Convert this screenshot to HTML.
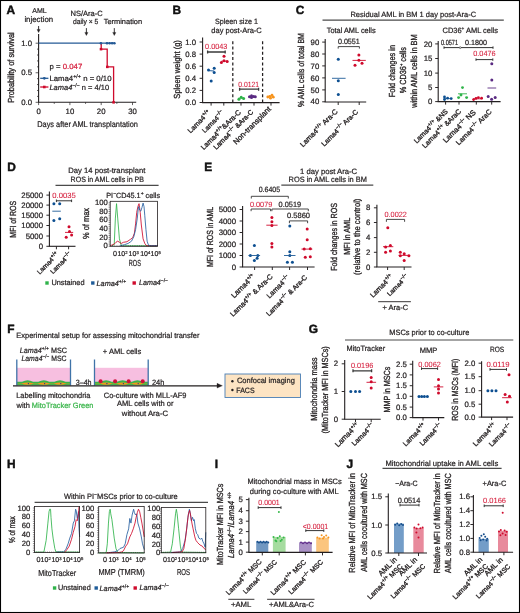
<!DOCTYPE html>
<html><head><meta charset="utf-8"><style>
html,body{margin:0;padding:0;background:#fff;}
svg{display:block;will-change:transform;}
text{font-family:"Liberation Sans",sans-serif;text-rendering:geometricPrecision;}
text:not([fill]){fill:#231f20;}
line:not([stroke]){stroke:#231f20;}
line:not([stroke-width]){stroke-width:0.8;}
</style></head><body>
<svg width="520" height="613" viewBox="0 0 520 613">
<rect x="0.5" y="0.5" width="519" height="612" fill="#fff" stroke="#000" stroke-width="1.1"/>
<text x="6.6" y="13.7" stroke="#111" stroke-width="0.45" font-size="11.9" fill="#111" font-weight="bold">A</text>
<text x="39.46" y="13.34" stroke="#231f20" stroke-width="0.22" font-size="7.01" text-anchor="middle">AML</text>
<text x="38.75" y="22.15" stroke="#231f20" stroke-width="0.22" font-size="7.84" text-anchor="middle">injection</text>
<text x="86.65" y="16.14" stroke="#231f20" stroke-width="0.22" font-size="7.54" text-anchor="middle">NS/Ara-C</text>
<text x="72.9" y="24.15" stroke="#231f20" stroke-width="0.22" font-size="7.4" textLength="25.38" lengthAdjust="spacingAndGlyphs">daily × 5</text>
<text x="103.72" y="24.39" stroke="#231f20" stroke-width="0.22" font-size="7.4" textLength="38.39" lengthAdjust="spacingAndGlyphs">Termination</text>
<line x1="38.6" y1="26" x2="38.6" y2="30.1" stroke-width="0.9"/>
<path d="M37,29.4 L40.2,29.4 L38.6,32.6 Z" fill="#231f20" stroke="#231f20" stroke-width="0.3"/>
<line x1="86.4" y1="28.1" x2="86.4" y2="33.1" stroke-width="0.9"/>
<path d="M84.8,32.4 L88,32.4 L86.4,35.6 Z" fill="#231f20" stroke="#231f20" stroke-width="0.3"/>
<line x1="114.3" y1="28.1" x2="114.3" y2="33.1" stroke-width="0.9"/>
<path d="M112.7,32.4 L115.9,32.4 L114.3,35.6 Z" fill="#231f20" stroke="#231f20" stroke-width="0.3"/>
<line x1="38.6" y1="34" x2="38.6" y2="102.3" stroke-width="1.1"/>
<line x1="35.6" y1="102.3" x2="38.6" y2="102.3" stroke-width="0.7"/>
<line x1="37" y1="96.39" x2="38.6" y2="96.39" stroke-width="0.7"/>
<line x1="37" y1="90.48" x2="38.6" y2="90.48" stroke-width="0.7"/>
<line x1="37" y1="84.57" x2="38.6" y2="84.57" stroke-width="0.7"/>
<line x1="37" y1="78.66" x2="38.6" y2="78.66" stroke-width="0.7"/>
<line x1="35.6" y1="72.75" x2="38.6" y2="72.75" stroke-width="0.7"/>
<line x1="37" y1="66.84" x2="38.6" y2="66.84" stroke-width="0.7"/>
<line x1="37" y1="60.93" x2="38.6" y2="60.93" stroke-width="0.7"/>
<line x1="37" y1="55.02" x2="38.6" y2="55.02" stroke-width="0.7"/>
<line x1="37" y1="49.11" x2="38.6" y2="49.11" stroke-width="0.7"/>
<line x1="35.6" y1="43.2" x2="38.6" y2="43.2" stroke-width="0.7"/>
<text x="32" y="45.9" stroke="#231f20" stroke-width="0.22" font-size="7.8" text-anchor="end">1.0</text>
<text x="32" y="75.4" stroke="#231f20" stroke-width="0.22" font-size="7.8" text-anchor="end">0.5</text>
<text x="32" y="105" stroke="#231f20" stroke-width="0.22" font-size="7.8" text-anchor="end">0.0</text>
<line x1="38.05" y1="102.3" x2="136.2" y2="102.3" stroke-width="1.1"/>
<line x1="38.6" y1="102.3" x2="38.6" y2="105.1" stroke-width="0.7"/>
<line x1="54.25" y1="102.3" x2="54.25" y2="103.9" stroke-width="0.7"/>
<line x1="69.9" y1="102.3" x2="69.9" y2="105.1" stroke-width="0.7"/>
<line x1="85.55" y1="102.3" x2="85.55" y2="103.9" stroke-width="0.7"/>
<line x1="101.2" y1="102.3" x2="101.2" y2="105.1" stroke-width="0.7"/>
<line x1="116.85" y1="102.3" x2="116.85" y2="103.9" stroke-width="0.7"/>
<line x1="132.5" y1="102.3" x2="132.5" y2="105.1" stroke-width="0.7"/>
<text x="38.6" y="114.4" stroke="#231f20" stroke-width="0.22" font-size="7.8" text-anchor="middle">0</text>
<text x="69.9" y="114.4" stroke="#231f20" stroke-width="0.22" font-size="7.8" text-anchor="middle">10</text>
<text x="101.2" y="114.4" stroke="#231f20" stroke-width="0.22" font-size="7.8" text-anchor="middle">20</text>
<text x="132.5" y="114.4" stroke="#231f20" stroke-width="0.22" font-size="7.8" text-anchor="middle">30</text>
<text x="14" y="67.5" stroke="#231f20" stroke-width="0.32" font-size="8.8" text-anchor="middle" textLength="70.49" lengthAdjust="spacingAndGlyphs" transform="rotate(-90 14 67.5)">Probability of survival</text>
<text x="37.2" y="126.58" stroke="#231f20" stroke-width="0.22" font-size="8.2" textLength="100.8" lengthAdjust="spacingAndGlyphs">Days after AML transplantation</text>
<path d="M101.2,43.2 V49.11 H107.2 V66.84 H113.6 V102.3" fill="none" stroke="#cf0a2c" stroke-width="1.3"/>
<rect x="99.7" y="47.91" width="2.6" height="2.5" fill="#cf0a2c"/>
<rect x="106" y="65.64" width="2.6" height="2.5" fill="#cf0a2c"/>
<rect x="112.3" y="101.1" width="2.6" height="2.5" fill="#cf0a2c"/>
<line x1="38.6" y1="43.2" x2="114.4" y2="43.2" stroke-width="1.3" stroke="#245a96"/>
<circle cx="100.9" cy="43.2" r="1.3" fill="#245a96"/>
<circle cx="107" cy="43.2" r="1.3" fill="#245a96"/>
<circle cx="109.6" cy="43.2" r="1.3" fill="#245a96"/>
<circle cx="112.1" cy="43.2" r="1.3" fill="#245a96"/>
<circle cx="114.4" cy="43.2" r="1.3" fill="#245a96"/>
<text x="49.6" y="68.78" stroke="#231f20" stroke-width="0.22" font-size="7.5" textLength="32.66" lengthAdjust="spacingAndGlyphs">p = <tspan fill="#d6213f" stroke="#d6213f">0.047</tspan></text>
<line x1="40.2" y1="78.3" x2="48.4" y2="78.3" stroke-width="1.3" stroke="#245a96"/>
<circle cx="44.3" cy="78.3" r="1.4" fill="#245a96"/>
<text x="49.4" y="80.72" stroke="#231f20" stroke-width="0.22" font-size="7.5" textLength="62.13" lengthAdjust="spacingAndGlyphs">Lama4<tspan font-size="5.2" dy="-2.8">+/+</tspan><tspan dy="2.8"> n = 0/10</tspan></text>
<line x1="40.2" y1="87" x2="48.4" y2="87" stroke-width="1.3" stroke="#cf0a2c"/>
<rect x="43" y="85.7" width="2.6" height="2.6" fill="#cf0a2c"/>
<text x="49.45" y="89.73" stroke="#231f20" stroke-width="0.22" font-size="7.5" textLength="59.65" lengthAdjust="spacingAndGlyphs"><tspan font-style="italic">Lama4</tspan><tspan font-size="5.2" dy="-2.8">−/−</tspan><tspan dy="2.8"> n = 4/10</tspan></text>
<text x="172.4" y="13.7" stroke="#111" stroke-width="0.45" font-size="11.9" fill="#111" font-weight="bold">B</text>
<text x="236.5" y="24.3" stroke="#231f20" stroke-width="0.22" font-size="7.7" text-anchor="middle" textLength="43" lengthAdjust="spacingAndGlyphs">Spleen size 1</text>
<text x="236.53" y="33.38" stroke="#231f20" stroke-width="0.22" font-size="7.7" text-anchor="middle" textLength="50.48" lengthAdjust="spacingAndGlyphs">day post-Ara-C</text>
<line x1="202.6" y1="37.5" x2="202.6" y2="102.6" stroke-width="1.1"/>
<line x1="199.6" y1="42" x2="202.6" y2="42" stroke-width="0.95"/>
<text x="196" y="44.6" stroke="#231f20" stroke-width="0.22" font-size="7.8" text-anchor="end">1.0</text>
<line x1="199.6" y1="54.1" x2="202.6" y2="54.1" stroke-width="0.95"/>
<text x="196" y="56.7" stroke="#231f20" stroke-width="0.22" font-size="7.8" text-anchor="end">0.8</text>
<line x1="199.6" y1="66.2" x2="202.6" y2="66.2" stroke-width="0.95"/>
<text x="196" y="68.8" stroke="#231f20" stroke-width="0.22" font-size="7.8" text-anchor="end">0.6</text>
<line x1="199.6" y1="78.3" x2="202.6" y2="78.3" stroke-width="0.95"/>
<text x="196" y="80.9" stroke="#231f20" stroke-width="0.22" font-size="7.8" text-anchor="end">0.4</text>
<line x1="199.6" y1="90.4" x2="202.6" y2="90.4" stroke-width="0.95"/>
<text x="196" y="93" stroke="#231f20" stroke-width="0.22" font-size="7.8" text-anchor="end">0.2</text>
<line x1="199.6" y1="102.5" x2="202.6" y2="102.5" stroke-width="0.95"/>
<text x="196" y="105.1" stroke="#231f20" stroke-width="0.22" font-size="7.8" text-anchor="end">0.0</text>
<text x="179.58" y="69.38" stroke="#231f20" stroke-width="0.32" font-size="8.8" text-anchor="middle" textLength="58.48" lengthAdjust="spacingAndGlyphs" transform="rotate(-90 179.58 69.38)">Spleen weight (g)</text>
<line x1="202.05" y1="102.6" x2="279.6" y2="102.6" stroke-width="1.1"/>
<line x1="211.1" y1="102.6" x2="211.1" y2="105.6" stroke-width="0.95"/>
<line x1="223.8" y1="102.6" x2="223.8" y2="105.6" stroke-width="0.95"/>
<line x1="241" y1="102.6" x2="241" y2="105.6" stroke-width="0.95"/>
<line x1="254" y1="102.6" x2="254" y2="105.6" stroke-width="0.95"/>
<line x1="271" y1="102.6" x2="271" y2="105.6" stroke-width="0.95"/>
<line x1="232.8" y1="41.2" x2="232.8" y2="102.6" stroke-width="1.25" stroke-dasharray="3,2.3"/>
<line x1="262.6" y1="41.2" x2="262.6" y2="102.6" stroke-width="1.25" stroke-dasharray="3,2.3"/>
<text x="205.1" y="48.7" stroke="#d6213f" stroke-width="0.08" font-size="7.6" fill="#d6213f" textLength="22.19" lengthAdjust="spacingAndGlyphs">0.0043</text>
<path d="M207.6,52 H225.2 M207.6,50.5 V53.5 M225.2,50.5 V53.5" fill="none" stroke="#3a3a3a" stroke-width="1.3"/>
<circle cx="214.2" cy="68.2" r="1.5" fill="#0d4f91"/>
<circle cx="208.5" cy="70.1" r="1.5" fill="#0d4f91"/>
<circle cx="214.2" cy="72.4" r="1.5" fill="#0d4f91"/>
<circle cx="211.2" cy="80.9" r="1.5" fill="#0d4f91"/>
<line x1="208.5" y1="70.6" x2="214.2" y2="71" stroke-width="0.9" stroke="#0d4f91"/>
<circle cx="224" cy="56.2" r="1.5" fill="#cf0a2c"/>
<circle cx="224" cy="60.8" r="1.5" fill="#cf0a2c"/>
<circle cx="227.2" cy="61.5" r="1.5" fill="#cf0a2c"/>
<circle cx="221.4" cy="62.6" r="1.5" fill="#cf0a2c"/>
<line x1="221.4" y1="61.2" x2="227.2" y2="61.2" stroke-width="0.9" stroke="#cf0a2c"/>
<text x="238.27" y="86.65" stroke="#d6213f" stroke-width="0.08" font-size="7.6" fill="#d6213f" textLength="20.83" lengthAdjust="spacingAndGlyphs">0.0121</text>
<path d="M239.6,89.2 H258.6 M239.6,87.7 V90.7 M258.6,87.7 V90.7" fill="none" stroke="#3a3a3a" stroke-width="1.3"/>
<circle cx="238.9" cy="99.2" r="1.5" fill="#2fb34a"/>
<circle cx="241.2" cy="97.2" r="1.5" fill="#2fb34a"/>
<circle cx="243.6" cy="98.6" r="1.5" fill="#2fb34a"/>
<line x1="238.4" y1="98.2" x2="244.2" y2="98.2" stroke-width="0.9" stroke="#2fb34a"/>
<circle cx="249.5" cy="96.8" r="1.5" fill="#5a2a82"/>
<circle cx="251.5" cy="95.8" r="1.5" fill="#5a2a82"/>
<circle cx="253.6" cy="96.4" r="1.5" fill="#5a2a82"/>
<circle cx="255.3" cy="96.8" r="1.5" fill="#5a2a82"/>
<circle cx="251.5" cy="97.5" r="1.5" fill="#5a2a82"/>
<line x1="248.5" y1="96.6" x2="256" y2="96.6" stroke-width="1" stroke="#5a2a82"/>
<circle cx="267.8" cy="97" r="1.4" fill="#f7941d"/>
<circle cx="269.8" cy="96.4" r="1.4" fill="#f7941d"/>
<circle cx="272" cy="95.2" r="1.4" fill="#f7941d"/>
<circle cx="273.3" cy="97.2" r="1.4" fill="#f7941d"/>
<circle cx="270.5" cy="98.2" r="1.4" fill="#f7941d"/>
<line x1="267" y1="96.8" x2="274" y2="96.8" stroke-width="0.9" stroke="#f7941d"/>
<text x="190.62" y="133.55" stroke="#231f20" stroke-width="0.32" font-size="7.05" transform="rotate(-45 190.62 133.55)">Lama4<tspan font-size="5.2" dy="-2.8">+/+</tspan><tspan dy="2.8"></tspan></text>
<text x="204.78" y="133.3" stroke="#231f20" stroke-width="0.32" font-size="6.76" transform="rotate(-45 204.78 133.3)">Lama4<tspan font-size="5.2" dy="-2.8">−/−</tspan><tspan dy="2.8"></tspan></text>
<text x="203.72" y="150.3" stroke="#231f20" stroke-width="0.32" font-size="7.21" transform="rotate(-45 203.72 150.3)">Lama4<tspan font-size="5.2" dy="-2.8">+/+</tspan><tspan dy="2.8">&amp;Ara-C</tspan></text>
<text x="216.22" y="150.05" stroke="#231f20" stroke-width="0.32" font-size="6.89" transform="rotate(-45 216.22 150.05)">Lama4<tspan font-size="5.2" dy="-2.8">−/−</tspan><tspan dy="2.8"> &amp;Ara-C</tspan></text>
<text x="236.22" y="144.98" stroke="#231f20" stroke-width="0.32" font-size="7.63" transform="rotate(-45 236.22 144.98)">Non-transplant</text>
<text x="295.8" y="13.8" stroke="#111" stroke-width="0.45" font-size="11.9" fill="#111" font-weight="bold">C</text>
<text x="350.45" y="17.19" stroke="#231f20" stroke-width="0.22" font-size="7.6" textLength="125.72" lengthAdjust="spacingAndGlyphs">Residual AML in BM 1 day post-Ara-C</text>
<line x1="322.5" y1="20.2" x2="503.8" y2="20.2" stroke-width="1.2" stroke="#4a4a4a"/>
<text x="326.71" y="32.61" stroke="#231f20" stroke-width="0.22" font-size="7.7" textLength="48.95" lengthAdjust="spacingAndGlyphs">Total AML cells</text>
<text x="442.55" y="32.85" stroke="#231f20" stroke-width="0.22" font-size="7.7" textLength="55.44" lengthAdjust="spacingAndGlyphs">CD36<tspan font-size="4.8" dy="-2.8">+</tspan><tspan dy="2.8"> AML cells</tspan></text>
<line x1="325.2" y1="39" x2="325.2" y2="102" stroke-width="1.1"/>
<line x1="322.2" y1="42.1" x2="325.2" y2="42.1" stroke-width="0.95"/>
<text x="319.3" y="44.7" stroke="#231f20" stroke-width="0.22" font-size="7.8" text-anchor="end">90</text>
<line x1="322.2" y1="54" x2="325.2" y2="54" stroke-width="0.95"/>
<text x="319.3" y="56.6" stroke="#231f20" stroke-width="0.22" font-size="7.8" text-anchor="end">80</text>
<line x1="322.2" y1="65.9" x2="325.2" y2="65.9" stroke-width="0.95"/>
<text x="319.3" y="68.5" stroke="#231f20" stroke-width="0.22" font-size="7.8" text-anchor="end">70</text>
<line x1="322.2" y1="77.9" x2="325.2" y2="77.9" stroke-width="0.95"/>
<text x="319.3" y="80.5" stroke="#231f20" stroke-width="0.22" font-size="7.8" text-anchor="end">60</text>
<line x1="322.2" y1="89.9" x2="325.2" y2="89.9" stroke-width="0.95"/>
<text x="319.3" y="92.5" stroke="#231f20" stroke-width="0.22" font-size="7.8" text-anchor="end">50</text>
<line x1="322.2" y1="101.8" x2="325.2" y2="101.8" stroke-width="0.95"/>
<text x="319.3" y="104.4" stroke="#231f20" stroke-width="0.22" font-size="7.8" text-anchor="end">40</text>
<line x1="324.65" y1="102" x2="366.2" y2="102" stroke-width="1.1"/>
<line x1="338.2" y1="102" x2="338.2" y2="105" stroke-width="0.95"/>
<line x1="359.2" y1="102" x2="359.2" y2="105" stroke-width="0.95"/>
<text x="303.93" y="70" stroke="#231f20" stroke-width="0.32" font-size="8.8" text-anchor="middle" textLength="74" lengthAdjust="spacingAndGlyphs" transform="rotate(-90 303.93 70)">% AML cells of total BM</text>
<text x="337.94" y="44.06" stroke="#231f20" stroke-width="0.22" font-size="7.6" textLength="21.87" lengthAdjust="spacingAndGlyphs">0.0551</text>
<path d="M338.2,48.6 V46.6 H359.4 V48.6" fill="none" stroke="#333" stroke-width="0.9"/>
<circle cx="338.3" cy="59.3" r="1.5" fill="#0d4f91"/>
<circle cx="338.3" cy="80.8" r="1.5" fill="#0d4f91"/>
<circle cx="338.3" cy="94.5" r="1.5" fill="#0d4f91"/>
<line x1="332" y1="78.3" x2="345.6" y2="78.3" stroke-width="0.9" stroke="#1f5c99"/>
<circle cx="358.9" cy="54.9" r="1.5" fill="#cf0a2c"/>
<circle cx="355" cy="65.2" r="1.5" fill="#cf0a2c"/>
<circle cx="362" cy="63.3" r="1.5" fill="#cf0a2c"/>
<circle cx="358.9" cy="60.3" r="1.5" fill="#cf0a2c"/>
<line x1="352.5" y1="60.4" x2="365.8" y2="60.4" stroke-width="0.9" stroke="#cf0a2c"/>
<text x="302.92" y="147.38" stroke="#231f20" stroke-width="0.32" font-size="7.22" transform="rotate(-45 302.92 147.38)">Lama4<tspan font-size="5.2" dy="-2.8">+/+</tspan><tspan dy="2.8"> Ara-C</tspan></text>
<text x="324.22" y="146.73" stroke="#231f20" stroke-width="0.32" font-size="6.95" transform="rotate(-45 324.22 146.73)">Lama4<tspan font-size="5.2" dy="-2.8">−/−</tspan><tspan dy="2.8"> Ara-C</tspan></text>
<line x1="438.2" y1="41" x2="438.2" y2="101.6" stroke-width="1.1"/>
<line x1="435.2" y1="43.9" x2="438.2" y2="43.9" stroke-width="0.95"/>
<text x="432.4" y="46.5" stroke="#231f20" stroke-width="0.22" font-size="7.8" text-anchor="end">20</text>
<line x1="435.2" y1="58.5" x2="438.2" y2="58.5" stroke-width="0.95"/>
<text x="432.4" y="61.1" stroke="#231f20" stroke-width="0.22" font-size="7.8" text-anchor="end">15</text>
<line x1="435.2" y1="73.1" x2="438.2" y2="73.1" stroke-width="0.95"/>
<text x="432.4" y="75.7" stroke="#231f20" stroke-width="0.22" font-size="7.8" text-anchor="end">10</text>
<line x1="435.2" y1="87.5" x2="438.2" y2="87.5" stroke-width="0.95"/>
<text x="432.4" y="90.1" stroke="#231f20" stroke-width="0.22" font-size="7.8" text-anchor="end">5</text>
<line x1="435.2" y1="101.6" x2="438.2" y2="101.6" stroke-width="0.95"/>
<text x="432.4" y="104.2" stroke="#231f20" stroke-width="0.22" font-size="7.8" text-anchor="end">0</text>
<line x1="437.65" y1="101.6" x2="500.6" y2="101.6" stroke-width="1.1"/>
<line x1="445.6" y1="101.6" x2="445.6" y2="104.6" stroke-width="0.95"/>
<line x1="459" y1="101.6" x2="459" y2="104.6" stroke-width="0.95"/>
<line x1="476.3" y1="101.6" x2="476.3" y2="104.6" stroke-width="0.95"/>
<line x1="491.7" y1="101.6" x2="491.7" y2="104.6" stroke-width="0.95"/>
<text x="394.53" y="71.07" stroke="#231f20" stroke-width="0.32" font-size="8.8" text-anchor="middle" textLength="52.37" lengthAdjust="spacingAndGlyphs" transform="rotate(-90 394.53 71.07)">Fold changes in</text>
<text x="406.22" y="70.22" stroke="#231f20" stroke-width="0.32" font-size="8.8" text-anchor="middle" textLength="46.28" lengthAdjust="spacingAndGlyphs" transform="rotate(-90 406.22 70.22)">% CD36<tspan font-size="4.8" dy="-2.8">+</tspan><tspan dy="2.8"> cells</tspan></text>
<text x="417.32" y="71" stroke="#231f20" stroke-width="0.32" font-size="8.8" text-anchor="middle" textLength="73.5" lengthAdjust="spacingAndGlyphs" transform="rotate(-90 417.32 71)">within AML cells in BM</text>
<text x="441" y="44.91" stroke="#231f20" stroke-width="0.22" font-size="7.4" textLength="17" lengthAdjust="spacingAndGlyphs">0.0571</text>
<text x="465" y="45.21" stroke="#231f20" stroke-width="0.22" font-size="7.4" textLength="22" lengthAdjust="spacingAndGlyphs">0.1800</text>
<path d="M444,47.6 H493 M444,46.4 V48.8 M493,46.4 V48.8" fill="none" stroke="#333" stroke-width="1"/>
<circle cx="460.2" cy="47.6" r="0.9" fill="#fff" stroke="#333" stroke-width="0.6"/>
<text x="473.2" y="56.2" stroke="#d6213f" stroke-width="0.08" font-size="7.6" fill="#d6213f" textLength="22.49" lengthAdjust="spacingAndGlyphs">0.0476</text>
<path d="M476,59.6 H492.8 M476,58.4 V60.8 M492.8,58.4 V60.8" fill="none" stroke="#333" stroke-width="1"/>
<circle cx="444.5" cy="97" r="1.4" fill="#0d4f91"/>
<circle cx="444.5" cy="99.6" r="1.4" fill="#0d4f91"/>
<circle cx="447.6" cy="98.2" r="1.4" fill="#0d4f91"/>
<circle cx="451.2" cy="98.6" r="1.4" fill="#0d4f91"/>
<line x1="443.5" y1="98.6" x2="452" y2="98.6" stroke="#0d4f91"/>
<circle cx="462.5" cy="87.6" r="1.45" fill="#2fb34a"/>
<circle cx="461" cy="95" r="1.45" fill="#2fb34a"/>
<circle cx="458.6" cy="97.6" r="1.45" fill="#2fb34a"/>
<circle cx="466.6" cy="97.6" r="1.45" fill="#2fb34a"/>
<line x1="458" y1="93.8" x2="467" y2="93.8" stroke-width="0.9" stroke="#2fb34a"/>
<circle cx="473.6" cy="99.6" r="1.4" fill="#cf0a2c"/>
<circle cx="476" cy="98.4" r="1.4" fill="#cf0a2c"/>
<circle cx="478.4" cy="97.6" r="1.4" fill="#cf0a2c"/>
<circle cx="481.6" cy="98.2" r="1.4" fill="#cf0a2c"/>
<line x1="473" y1="98.8" x2="482.5" y2="98.8" stroke="#cf0a2c"/>
<circle cx="491.8" cy="63.8" r="1.5" fill="#5a2a82"/>
<circle cx="491.8" cy="80" r="1.5" fill="#5a2a82"/>
<circle cx="488.2" cy="96.6" r="1.5" fill="#5a2a82"/>
<circle cx="491.6" cy="99.2" r="1.5" fill="#5a2a82"/>
<circle cx="495.2" cy="97.6" r="1.5" fill="#5a2a82"/>
<line x1="487.5" y1="88" x2="496.2" y2="88" stroke-width="0.9" stroke="#5a2a82"/>
<text x="416.68" y="143.63" stroke="#231f20" stroke-width="0.32" font-size="6.89" transform="rotate(-45 416.68 143.63)">Lama4<tspan font-size="5.2" dy="-2.8">+/+</tspan><tspan dy="2.8"> &amp;NS</tspan></text>
<text x="425" y="148.4" stroke="#231f20" stroke-width="0.32" font-size="7.04" transform="rotate(-45 425 148.4)">Lama4<tspan font-size="5.2" dy="-2.8">+/+</tspan><tspan dy="2.8"> &amp;AraC</tspan></text>
<text x="445.93" y="143.2" stroke="#231f20" stroke-width="0.32" font-size="7.48" transform="rotate(-45 445.93 143.2)">Lama4<tspan font-size="5.2" dy="-2.8">−/−</tspan><tspan dy="2.8"> NS</tspan></text>
<text x="458.89" y="145.48" stroke="#231f20" stroke-width="0.32" font-size="7.11" transform="rotate(-45 458.89 145.48)">Lama4<tspan font-size="5.2" dy="-2.8">−/−</tspan><tspan dy="2.8"> AraC</tspan></text>
<text x="7.2" y="170.7" stroke="#111" stroke-width="0.45" font-size="11.9" fill="#111" font-weight="bold">D</text>
<text x="106.8" y="173.45" stroke="#231f20" stroke-width="0.22" font-size="7.7" text-anchor="middle" textLength="77.16" lengthAdjust="spacingAndGlyphs">Day 14 post-transplant</text>
<text x="107.27" y="182.35" stroke="#231f20" stroke-width="0.22" font-size="7.7" text-anchor="middle" textLength="73.44" lengthAdjust="spacingAndGlyphs">ROS in AML cells in PB</text>
<line x1="55.5" y1="185.4" x2="158.6" y2="185.4" stroke-width="1.2" stroke="#4a4a4a"/>
<line x1="49.4" y1="191.5" x2="49.4" y2="246.3" stroke-width="1.1"/>
<line x1="46.4" y1="195.1" x2="49.4" y2="195.1" stroke-width="0.95"/>
<text x="43" y="197.7" stroke="#231f20" stroke-width="0.22" font-size="7.8" text-anchor="end">25000</text>
<line x1="46.4" y1="205.1" x2="49.4" y2="205.1" stroke-width="0.95"/>
<text x="43" y="207.7" stroke="#231f20" stroke-width="0.22" font-size="7.8" text-anchor="end">20000</text>
<line x1="46.4" y1="215.2" x2="49.4" y2="215.2" stroke-width="0.95"/>
<text x="43" y="217.8" stroke="#231f20" stroke-width="0.22" font-size="7.8" text-anchor="end">15000</text>
<line x1="46.4" y1="225.5" x2="49.4" y2="225.5" stroke-width="0.95"/>
<text x="43" y="228.1" stroke="#231f20" stroke-width="0.22" font-size="7.8" text-anchor="end">10000</text>
<line x1="46.4" y1="236" x2="49.4" y2="236" stroke-width="0.95"/>
<text x="43" y="238.6" stroke="#231f20" stroke-width="0.22" font-size="7.8" text-anchor="end">5000</text>
<line x1="46.4" y1="246.3" x2="49.4" y2="246.3" stroke-width="0.95"/>
<text x="43" y="248.9" stroke="#231f20" stroke-width="0.22" font-size="7.8" text-anchor="end">0</text>
<line x1="48.85" y1="246.3" x2="75.5" y2="246.3" stroke-width="1.1"/>
<line x1="56.4" y1="246.3" x2="56.4" y2="249.3" stroke-width="0.95"/>
<line x1="68.6" y1="246.3" x2="68.6" y2="249.3" stroke-width="0.95"/>
<text x="15.62" y="219.26" stroke="#231f20" stroke-width="0.32" font-size="8.8" text-anchor="middle" textLength="36.86" lengthAdjust="spacingAndGlyphs" transform="rotate(-90 15.62 219.26)">MFI of ROS</text>
<text x="52.36" y="198.45" stroke="#d6213f" stroke-width="0.08" font-size="7.6" fill="#d6213f" textLength="23.38" lengthAdjust="spacingAndGlyphs">0.0035</text>
<path d="M56.4,200.8 H71.6 M56.4,199.5 V202.1 M71.6,199.5 V202.1" fill="none" stroke="#333" stroke-width="1"/>
<circle cx="53.9" cy="203.8" r="1.5" fill="#0d4f91"/>
<circle cx="59.7" cy="203.8" r="1.5" fill="#0d4f91"/>
<circle cx="53.9" cy="220.6" r="1.5" fill="#0d4f91"/>
<circle cx="59.7" cy="218.8" r="1.5" fill="#0d4f91"/>
<line x1="52.3" y1="211.2" x2="60.8" y2="211.2" stroke-width="0.9" stroke="#1f5c99"/>
<circle cx="69" cy="226.7" r="1.5" fill="#cf0a2c"/>
<circle cx="69.5" cy="231.6" r="1.5" fill="#cf0a2c"/>
<circle cx="66.2" cy="237.3" r="1.5" fill="#cf0a2c"/>
<circle cx="71.6" cy="234.9" r="1.5" fill="#cf0a2c"/>
<line x1="65" y1="232.4" x2="73.2" y2="232.4" stroke-width="0.9" stroke="#cf0a2c"/>
<text x="39.68" y="274.66" stroke="#231f20" stroke-width="0.32" font-size="6.71" transform="rotate(-45 39.68 274.66)">Lama4<tspan font-size="5.2" dy="-2.8">+/+</tspan><tspan dy="2.8"></tspan></text>
<text x="52.91" y="274.36" stroke="#231f20" stroke-width="0.32" font-size="6.57" transform="rotate(-45 52.91 274.36)">Lama4<tspan font-size="5.2" dy="-2.8">−/−</tspan><tspan dy="2.8"></tspan></text>
<text x="106.29" y="198.06" stroke="#231f20" stroke-width="0.22" font-size="7.5" textLength="53.81" lengthAdjust="spacingAndGlyphs">PI<tspan font-size="5.2" dy="-2.8">−</tspan><tspan dy="2.8">CD45.1</tspan><tspan font-size="5.2" dy="-2.8">+</tspan><tspan dy="2.8"> cells</tspan></text>
<polyline points="111.92,245.77 114.23,244.61 115.38,218.08 116.54,203.65 117.69,218.08 119.42,238.84 121.15,245.19 122.31,245.77 157.5,245.77" fill="none" stroke="#2fb34a" stroke-width="0.85" stroke-linejoin="round"/>
<polyline points="110.19,245.77 114.23,244.04 115.96,242.31 117.69,241.15 119.42,242.31 121.15,243.46 123.46,242.31 126.92,241.73 130.38,239.42 132.69,237.69 134.42,233.08 135.58,223.85 136.73,212.31 137.88,206.54 139.04,203.65 139.61,207.69 140.19,212.31 141.34,225 143.08,238.84 144.81,243.46 146.54,245.77 157.5,245.77" fill="none" stroke="#cf0a2c" stroke-width="0.85" stroke-linejoin="round"/>
<polyline points="120,245.77 124.61,244.61 128.08,243.46 131.54,241.15 133.85,236.54 135.58,229.61 137.31,218.08 138.23,208.85 138.69,206.54 139.61,210 140.77,211.15 141.92,207.69 143.08,203.08 144,206.54 144.81,215.77 145.96,229.61 147.11,241.15 148.27,244.61 150,245.77 157.5,245.77" fill="none" stroke="#2760a0" stroke-width="0.85" stroke-linejoin="round"/>
<rect x="110.2" y="201.3" width="47.3" height="45" fill="none" stroke="#231f20" stroke-width="0.8"/>
<line x1="108.6" y1="246.3" x2="110.2" y2="246.3" stroke-width="0.5"/>
<line x1="108.6" y1="244.12" x2="110.2" y2="244.12" stroke-width="0.5"/>
<line x1="108.6" y1="241.95" x2="110.2" y2="241.95" stroke-width="0.5"/>
<line x1="108.6" y1="239.78" x2="110.2" y2="239.78" stroke-width="0.5"/>
<line x1="108.6" y1="237.6" x2="110.2" y2="237.6" stroke-width="0.5"/>
<line x1="108.6" y1="235.43" x2="110.2" y2="235.43" stroke-width="0.5"/>
<line x1="108.6" y1="233.25" x2="110.2" y2="233.25" stroke-width="0.5"/>
<line x1="108.6" y1="231.08" x2="110.2" y2="231.08" stroke-width="0.5"/>
<line x1="108.6" y1="228.9" x2="110.2" y2="228.9" stroke-width="0.5"/>
<line x1="108.6" y1="226.73" x2="110.2" y2="226.73" stroke-width="0.5"/>
<line x1="108.6" y1="224.55" x2="110.2" y2="224.55" stroke-width="0.5"/>
<line x1="108.6" y1="222.38" x2="110.2" y2="222.38" stroke-width="0.5"/>
<line x1="108.6" y1="220.2" x2="110.2" y2="220.2" stroke-width="0.5"/>
<line x1="108.6" y1="218.03" x2="110.2" y2="218.03" stroke-width="0.5"/>
<line x1="108.6" y1="215.85" x2="110.2" y2="215.85" stroke-width="0.5"/>
<line x1="108.6" y1="213.68" x2="110.2" y2="213.68" stroke-width="0.5"/>
<line x1="108.6" y1="211.5" x2="110.2" y2="211.5" stroke-width="0.5"/>
<line x1="108.6" y1="209.33" x2="110.2" y2="209.33" stroke-width="0.5"/>
<line x1="108.6" y1="207.15" x2="110.2" y2="207.15" stroke-width="0.5"/>
<line x1="108.6" y1="204.98" x2="110.2" y2="204.98" stroke-width="0.5"/>
<line x1="108.6" y1="202.8" x2="110.2" y2="202.8" stroke-width="0.5"/>
<line x1="110.2" y1="246.3" x2="110.2" y2="245.3" stroke-width="0.5"/>
<line x1="112.45" y1="246.3" x2="112.45" y2="245.3" stroke-width="0.5"/>
<line x1="114.7" y1="246.3" x2="114.7" y2="245.3" stroke-width="0.5"/>
<line x1="116.96" y1="246.3" x2="116.96" y2="245.3" stroke-width="0.5"/>
<line x1="119.21" y1="246.3" x2="119.21" y2="245.3" stroke-width="0.5"/>
<line x1="121.46" y1="246.3" x2="121.46" y2="245.3" stroke-width="0.5"/>
<line x1="123.71" y1="246.3" x2="123.71" y2="245.3" stroke-width="0.5"/>
<line x1="125.97" y1="246.3" x2="125.97" y2="245.3" stroke-width="0.5"/>
<line x1="128.22" y1="246.3" x2="128.22" y2="245.3" stroke-width="0.5"/>
<line x1="130.47" y1="246.3" x2="130.47" y2="245.3" stroke-width="0.5"/>
<line x1="132.72" y1="246.3" x2="132.72" y2="245.3" stroke-width="0.5"/>
<line x1="134.98" y1="246.3" x2="134.98" y2="245.3" stroke-width="0.5"/>
<line x1="137.23" y1="246.3" x2="137.23" y2="245.3" stroke-width="0.5"/>
<line x1="139.48" y1="246.3" x2="139.48" y2="245.3" stroke-width="0.5"/>
<line x1="141.73" y1="246.3" x2="141.73" y2="245.3" stroke-width="0.5"/>
<line x1="143.99" y1="246.3" x2="143.99" y2="245.3" stroke-width="0.5"/>
<line x1="146.24" y1="246.3" x2="146.24" y2="245.3" stroke-width="0.5"/>
<line x1="148.49" y1="246.3" x2="148.49" y2="245.3" stroke-width="0.5"/>
<line x1="150.74" y1="246.3" x2="150.74" y2="245.3" stroke-width="0.5"/>
<line x1="153" y1="246.3" x2="153" y2="245.3" stroke-width="0.5"/>
<line x1="155.25" y1="246.3" x2="155.25" y2="245.3" stroke-width="0.5"/>
<line x1="157.5" y1="246.3" x2="157.5" y2="245.3" stroke-width="0.5"/>
<text x="107.8" y="204.9" stroke="#231f20" stroke-width="0.22" font-size="7.7" text-anchor="end">100</text>
<text x="107.8" y="213.6" stroke="#231f20" stroke-width="0.22" font-size="7.7" text-anchor="end">80</text>
<text x="107.8" y="222.3" stroke="#231f20" stroke-width="0.22" font-size="7.7" text-anchor="end">60</text>
<text x="107.8" y="231" stroke="#231f20" stroke-width="0.22" font-size="7.7" text-anchor="end">40</text>
<text x="107.8" y="239.7" stroke="#231f20" stroke-width="0.22" font-size="7.7" text-anchor="end">20</text>
<text x="107.8" y="248.4" stroke="#231f20" stroke-width="0.22" font-size="7.7" text-anchor="end">0</text>
<text x="88.91" y="223.48" stroke="#231f20" stroke-width="0.32" font-size="8.8" text-anchor="middle" textLength="31.09" lengthAdjust="spacingAndGlyphs" transform="rotate(-90 88.91 223.48)">% of max</text>
<text x="113" y="256.4" stroke="#231f20" stroke-width="0.22" font-size="7.2">0</text>
<text x="117.4" y="256.4" stroke="#231f20" stroke-width="0.22" font-size="7">10<tspan font-size="4.2" dy="-2.5">2</tspan><tspan dy="2.5"></tspan></text>
<text x="128.6" y="256.4" stroke="#231f20" stroke-width="0.22" font-size="7">10<tspan font-size="4.2" dy="-2.5">3</tspan><tspan dy="2.5"></tspan></text>
<text x="140.2" y="256.4" stroke="#231f20" stroke-width="0.22" font-size="7">10<tspan font-size="4.2" dy="-2.5">4</tspan><tspan dy="2.5"></tspan></text>
<text x="150.6" y="256.4" stroke="#231f20" stroke-width="0.22" font-size="7">10<tspan font-size="4.2" dy="-2.5">5</tspan><tspan dy="2.5"></tspan></text>
<text x="134.86" y="265.7" stroke="#231f20" stroke-width="0.22" font-size="8.8" text-anchor="middle" textLength="12.09" lengthAdjust="spacingAndGlyphs">ROS</text>
<rect x="45.3" y="281.3" width="3.4" height="3.4" fill="#2fb34a"/>
<text x="51.38" y="285.47" stroke="#231f20" stroke-width="0.22" font-size="7.5" textLength="33.14" lengthAdjust="spacingAndGlyphs">Unstained</text>
<rect x="91.1" y="281.3" width="3.4" height="3.4" fill="#1f5c99"/>
<text x="96.54" y="285.69" stroke="#231f20" stroke-width="0.22" font-size="7.5" textLength="29.63" lengthAdjust="spacingAndGlyphs"><tspan font-style="italic">Lama4</tspan><tspan font-size="5.2" dy="-2.8">+/+</tspan><tspan dy="2.8"></tspan></text>
<rect x="132.5" y="281.3" width="3.4" height="3.4" fill="#cf0a2c"/>
<text x="139" y="285.29" stroke="#231f20" stroke-width="0.22" font-size="7.5" textLength="29" lengthAdjust="spacingAndGlyphs"><tspan font-style="italic">Lama4</tspan><tspan font-size="5.2" dy="-2.8">−/−</tspan><tspan dy="2.8"></tspan></text>
<text x="204.2" y="170.7" stroke="#111" stroke-width="0.45" font-size="11.9" fill="#111" font-weight="bold">E</text>
<text x="328.6" y="173.7" stroke="#231f20" stroke-width="0.22" font-size="7.7" text-anchor="middle" textLength="57.14" lengthAdjust="spacingAndGlyphs">1 day post Ara-C</text>
<text x="288.6" y="182.35" stroke="#231f20" stroke-width="0.22" font-size="7.7" textLength="78.23" lengthAdjust="spacingAndGlyphs">ROS in AML cells in BM</text>
<line x1="281.3" y1="185.2" x2="373.3" y2="185.2" stroke-width="1.2" stroke="#4a4a4a"/>
<line x1="242.6" y1="206" x2="242.6" y2="267" stroke-width="1.1"/>
<line x1="239.6" y1="209.5" x2="242.6" y2="209.5" stroke-width="0.95"/>
<text x="236" y="212.1" stroke="#231f20" stroke-width="0.22" font-size="7.8" text-anchor="end">5000</text>
<line x1="239.6" y1="221" x2="242.6" y2="221" stroke-width="0.95"/>
<text x="236" y="223.6" stroke="#231f20" stroke-width="0.22" font-size="7.8" text-anchor="end">4000</text>
<line x1="239.6" y1="232.5" x2="242.6" y2="232.5" stroke-width="0.95"/>
<text x="236" y="235.1" stroke="#231f20" stroke-width="0.22" font-size="7.8" text-anchor="end">3000</text>
<line x1="239.6" y1="244" x2="242.6" y2="244" stroke-width="0.95"/>
<text x="236" y="246.6" stroke="#231f20" stroke-width="0.22" font-size="7.8" text-anchor="end">2000</text>
<line x1="239.6" y1="255.5" x2="242.6" y2="255.5" stroke-width="0.95"/>
<text x="236" y="258.1" stroke="#231f20" stroke-width="0.22" font-size="7.8" text-anchor="end">1000</text>
<line x1="239.6" y1="267" x2="242.6" y2="267" stroke-width="0.95"/>
<text x="236" y="269.6" stroke="#231f20" stroke-width="0.22" font-size="7.8" text-anchor="end">0</text>
<line x1="242.05" y1="267" x2="314.6" y2="267" stroke-width="1.1"/>
<line x1="254.6" y1="267" x2="254.6" y2="270" stroke-width="0.95"/>
<line x1="272.3" y1="267" x2="272.3" y2="270" stroke-width="0.95"/>
<line x1="289.6" y1="267" x2="289.6" y2="270" stroke-width="0.95"/>
<line x1="307.5" y1="267" x2="307.5" y2="270" stroke-width="0.95"/>
<text x="213.28" y="236.88" stroke="#231f20" stroke-width="0.32" font-size="8.8" text-anchor="middle" textLength="60.27" lengthAdjust="spacingAndGlyphs" transform="rotate(-90 213.28 236.88)">MFI of ROS in AML</text>
<text x="258.73" y="192.45" stroke="#231f20" stroke-width="0.22" font-size="7.6" textLength="21.42" lengthAdjust="spacingAndGlyphs">0.6405</text>
<path d="M251.3,198.5 V196.3 H288.3 V198.5" fill="none" stroke="#333" stroke-width="0.9"/>
<text x="249.9" y="206.7" stroke="#d6213f" stroke-width="0.08" font-size="7.6" fill="#d6213f" textLength="22.39" lengthAdjust="spacingAndGlyphs">0.0079</text>
<path d="M251.1,211.2 V209 H270.6 V211.2" fill="none" stroke="#333" stroke-width="0.9"/>
<text x="278.6" y="206.6" stroke="#231f20" stroke-width="0.22" font-size="7.6" textLength="22.49" lengthAdjust="spacingAndGlyphs">0.0519</text>
<path d="M271.9,211.2 V209 H308.3 V211.2" fill="none" stroke="#333" stroke-width="0.9"/>
<text x="287" y="217.65" stroke="#231f20" stroke-width="0.22" font-size="7.6" textLength="23" lengthAdjust="spacingAndGlyphs">0.5860</text>
<path d="M289.4,223.2 V220.9 H307.6 V223.2" fill="none" stroke="#333" stroke-width="0.9"/>
<circle cx="254.4" cy="245.6" r="1.5" fill="#0d4f91"/>
<circle cx="250.4" cy="255.5" r="1.5" fill="#0d4f91"/>
<circle cx="257.8" cy="255.5" r="1.5" fill="#0d4f91"/>
<circle cx="257.1" cy="258.2" r="1.5" fill="#0d4f91"/>
<circle cx="254.4" cy="260.5" r="1.5" fill="#0d4f91"/>
<line x1="248.4" y1="255.5" x2="260.1" y2="255.5" stroke-width="0.9" stroke="#1f5c99"/>
<circle cx="271.9" cy="217.4" r="1.5" fill="#cf0a2c"/>
<circle cx="271.9" cy="221.8" r="1.5" fill="#cf0a2c"/>
<circle cx="271.9" cy="225.5" r="1.5" fill="#cf0a2c"/>
<circle cx="271.9" cy="243.4" r="1.5" fill="#cf0a2c"/>
<circle cx="271.9" cy="247" r="1.5" fill="#cf0a2c"/>
<line x1="266.3" y1="225.2" x2="277.6" y2="225.2" stroke-width="0.9" stroke="#cf0a2c"/>
<circle cx="289.8" cy="225.9" r="1.5" fill="#0d4f91"/>
<circle cx="289.8" cy="251.8" r="1.5" fill="#0d4f91"/>
<circle cx="289.8" cy="255.5" r="1.5" fill="#0d4f91"/>
<circle cx="287.4" cy="262.2" r="1.5" fill="#0d4f91"/>
<circle cx="292.4" cy="262.2" r="1.5" fill="#0d4f91"/>
<line x1="284" y1="255.5" x2="295.5" y2="255.5" stroke-width="0.9" stroke="#1f5c99"/>
<circle cx="307.2" cy="229" r="1.5" fill="#cf0a2c"/>
<circle cx="307.2" cy="239.7" r="1.5" fill="#cf0a2c"/>
<circle cx="304.2" cy="249.1" r="1.5" fill="#cf0a2c"/>
<circle cx="310.3" cy="248.7" r="1.5" fill="#cf0a2c"/>
<circle cx="305.3" cy="257.2" r="1.5" fill="#cf0a2c"/>
<circle cx="310.3" cy="256.8" r="1.5" fill="#cf0a2c"/>
<line x1="301.5" y1="249.1" x2="312.3" y2="249.1" stroke-width="0.9" stroke="#cf0a2c"/>
<text x="234.16" y="298.55" stroke="#231f20" stroke-width="0.32" font-size="7.54" transform="rotate(-45 234.16 298.55)">Lama4<tspan font-size="5.2" dy="-2.8">+/+</tspan><tspan dy="2.8"></tspan></text>
<text x="233" y="317.11" stroke="#231f20" stroke-width="0.32" font-size="7.21" transform="rotate(-45 233 317.11)">Lama4<tspan font-size="5.2" dy="-2.8">+/+</tspan><tspan dy="2.8"> &amp; Ara-C</tspan></text>
<text x="269.56" y="298.8" stroke="#231f20" stroke-width="0.32" font-size="7.14" transform="rotate(-45 269.56 298.8)">Lama4<tspan font-size="5.2" dy="-2.8">−/−</tspan><tspan dy="2.8"></tspan></text>
<text x="268.94" y="316.61" stroke="#231f20" stroke-width="0.32" font-size="6.91" transform="rotate(-45 268.94 316.61)">Lama4<tspan font-size="5.2" dy="-2.8">−/−</tspan><tspan dy="2.8"> &amp; Ara-C</tspan></text>
<line x1="376.9" y1="204.7" x2="376.9" y2="267" stroke-width="1.1"/>
<line x1="373.9" y1="207.8" x2="376.9" y2="207.8" stroke-width="0.95"/>
<text x="370.3" y="210.4" stroke="#231f20" stroke-width="0.22" font-size="7.8" text-anchor="end">8</text>
<line x1="373.9" y1="222.5" x2="376.9" y2="222.5" stroke-width="0.95"/>
<text x="370.3" y="225.1" stroke="#231f20" stroke-width="0.22" font-size="7.8" text-anchor="end">6</text>
<line x1="373.9" y1="237.6" x2="376.9" y2="237.6" stroke-width="0.95"/>
<text x="370.3" y="240.2" stroke="#231f20" stroke-width="0.22" font-size="7.8" text-anchor="end">4</text>
<line x1="373.9" y1="252.3" x2="376.9" y2="252.3" stroke-width="0.95"/>
<text x="370.3" y="254.9" stroke="#231f20" stroke-width="0.22" font-size="7.8" text-anchor="end">2</text>
<line x1="373.9" y1="267" x2="376.9" y2="267" stroke-width="0.95"/>
<text x="370.3" y="269.6" stroke="#231f20" stroke-width="0.22" font-size="7.8" text-anchor="end">0</text>
<line x1="376.35" y1="267" x2="411.5" y2="267" stroke-width="1.1"/>
<line x1="387.6" y1="267" x2="387.6" y2="270" stroke-width="0.95"/>
<line x1="404.2" y1="267" x2="404.2" y2="270" stroke-width="0.95"/>
<text x="337" y="236.88" stroke="#231f20" stroke-width="0.32" font-size="8.8" text-anchor="middle" textLength="67.89" lengthAdjust="spacingAndGlyphs" transform="rotate(-90 337 236.88)">Fold changes in ROS</text>
<text x="349.55" y="236.27" stroke="#231f20" stroke-width="0.32" font-size="8.8" text-anchor="middle" textLength="36.95" lengthAdjust="spacingAndGlyphs" transform="rotate(-90 349.55 236.27)">MFI in AML</text>
<text x="360.34" y="236.75" stroke="#231f20" stroke-width="0.32" font-size="8.8" text-anchor="middle" textLength="76.38" lengthAdjust="spacingAndGlyphs" transform="rotate(-90 360.34 236.75)">(relative to the control)</text>
<text x="384.48" y="217.38" stroke="#d6213f" stroke-width="0.08" font-size="7.6" fill="#d6213f" textLength="22.41" lengthAdjust="spacingAndGlyphs">0.0022</text>
<path d="M386.4,221.8 V219.4 H404.6 V221.8" fill="none" stroke="#333" stroke-width="0.9"/>
<circle cx="387.8" cy="227.7" r="1.5" fill="#cf0a2c"/>
<circle cx="385.6" cy="247.1" r="1.5" fill="#cf0a2c"/>
<circle cx="390.4" cy="245.4" r="1.5" fill="#cf0a2c"/>
<circle cx="385.6" cy="252.3" r="1.5" fill="#cf0a2c"/>
<circle cx="390.4" cy="250.9" r="1.5" fill="#cf0a2c"/>
<line x1="383" y1="246.7" x2="393.3" y2="246.7" stroke-width="0.9" stroke="#cf0a2c"/>
<circle cx="400.3" cy="252.3" r="1.5" fill="#cf0a2c"/>
<circle cx="404.2" cy="253.7" r="1.5" fill="#cf0a2c"/>
<circle cx="400.3" cy="255.7" r="1.5" fill="#cf0a2c"/>
<circle cx="408.9" cy="255.7" r="1.5" fill="#cf0a2c"/>
<circle cx="404.2" cy="260.6" r="1.5" fill="#cf0a2c"/>
<line x1="398.5" y1="255.4" x2="410.1" y2="255.4" stroke-width="0.9" stroke="#cf0a2c"/>
<text x="372.93" y="298.11" stroke="#231f20" stroke-width="0.32" font-size="7.18" transform="rotate(-45 372.93 298.11)">Lama4<tspan font-size="5.2" dy="-2.8">+/+</tspan><tspan dy="2.8"></tspan></text>
<text x="389.72" y="296.58" stroke="#231f20" stroke-width="0.32" font-size="6.53" transform="rotate(-45 389.72 296.58)">Lama4<tspan font-size="5.2" dy="-2.8">−/−</tspan><tspan dy="2.8"></tspan></text>
<line x1="378.2" y1="301.7" x2="410.9" y2="301.7" stroke-width="0.9"/>
<text x="395.34" y="310.45" stroke="#231f20" stroke-width="0.22" font-size="7.5" text-anchor="middle" textLength="25.51" lengthAdjust="spacingAndGlyphs">+ Ara-C</text>
<text x="7.2" y="332.5" stroke="#111" stroke-width="0.45" font-size="11.9" fill="#111" font-weight="bold">F</text>
<text x="16.35" y="338.43" stroke="#231f20" stroke-width="0.22" font-size="7.7" textLength="183.02" lengthAdjust="spacingAndGlyphs">Experimental setup for assessing mitochondrial transfer</text>
<text x="19.8" y="353" stroke="#231f20" stroke-width="0.22" font-size="7.7" textLength="47.14" lengthAdjust="spacingAndGlyphs"><tspan font-style="italic">Lama4</tspan><tspan font-size="5.2" dy="-2.8">+/+</tspan><tspan dy="2.8"> MSC</tspan></text>
<text x="21.45" y="361.28" stroke="#231f20" stroke-width="0.22" font-size="7.7" textLength="45" lengthAdjust="spacingAndGlyphs"><tspan font-style="italic">Lama4</tspan><tspan font-size="5.2" dy="-2.8">−/−</tspan><tspan dy="2.8"> MSC</tspan></text>
<rect x="16.8" y="367.8" width="53.7" height="14.2" fill="#f7bfe0"/>
<path d="M16.8,385.2 V381.7 H22.1 Q27.6,378.6 33.1,381.7 H38.3 Q43.8,378.6 49.3,381.7 H54.5 Q60,378.6 65.5,381.7 H70.5 V385.2 Z" fill="#3bb54a"/>
<line x1="16.8" y1="383.7" x2="70.5" y2="383.7" stroke-width="0.5" stroke="#c9a227"/>
<path d="M21.4,383.7 Q27.6,381.5 33.8,383.7 Q27.6,385.9 21.4,383.7 Z" fill="#f7941d"/>
<circle cx="28.4" cy="383.6" r="0.7" fill="#1d3f8c"/>
<path d="M37.6,383.7 Q43.8,381.5 50,383.7 Q43.8,385.9 37.6,383.7 Z" fill="#f7941d"/>
<circle cx="44.6" cy="383.6" r="0.7" fill="#1d3f8c"/>
<path d="M53.8,383.7 Q60,381.5 66.2,383.7 Q60,385.9 53.8,383.7 Z" fill="#f7941d"/>
<circle cx="60.8" cy="383.6" r="0.7" fill="#1d3f8c"/>
<line x1="16.8" y1="359.5" x2="16.8" y2="385.5" stroke-width="1.3" stroke="#3f73a8"/>
<line x1="70.5" y1="359.5" x2="70.5" y2="385.5" stroke-width="1.3" stroke="#3f73a8"/>
<rect x="94.5" y="367.8" width="53.7" height="14.2" fill="#f7bfe0"/>
<path d="M94.5,385.2 V381.7 H100.6 Q106.1,378.6 111.6,381.7 H117.1 Q122.6,378.6 128.1,381.7 H131.9 Q137.4,378.6 142.9,381.7 H148.2 V385.2 Z" fill="#3bb54a"/>
<line x1="94.5" y1="383.7" x2="148.2" y2="383.7" stroke-width="0.5" stroke="#c9a227"/>
<path d="M99.9,383.7 Q106.1,381.5 112.3,383.7 Q106.1,385.9 99.9,383.7 Z" fill="#f7941d"/>
<circle cx="106.9" cy="383.6" r="0.7" fill="#1d3f8c"/>
<path d="M116.4,383.7 Q122.6,381.5 128.8,383.7 Q122.6,385.9 116.4,383.7 Z" fill="#f7941d"/>
<circle cx="123.4" cy="383.6" r="0.7" fill="#1d3f8c"/>
<path d="M131.2,383.7 Q137.4,381.5 143.6,383.7 Q137.4,385.9 131.2,383.7 Z" fill="#f7941d"/>
<circle cx="138.2" cy="383.6" r="0.7" fill="#1d3f8c"/>
<line x1="94.5" y1="359.5" x2="94.5" y2="385.5" stroke-width="1.3" stroke="#3f73a8"/>
<line x1="148.2" y1="359.5" x2="148.2" y2="385.5" stroke-width="1.3" stroke="#3f73a8"/>
<circle cx="100.6" cy="381.2" r="2" fill="#d0103a"/>
<circle cx="115.1" cy="381.2" r="2" fill="#d0103a"/>
<circle cx="128.6" cy="381.2" r="2" fill="#d0103a"/>
<circle cx="142.7" cy="381.2" r="2" fill="#d0103a"/>
<line x1="13" y1="385.8" x2="218" y2="385.8" stroke-width="1.3"/>
<path d="M217,383.3 L222.4,385.7 L217,388.1 Z" fill="#231f20" stroke="#231f20" stroke-width="0.3"/>
<text x="75.72" y="385.05" stroke="#231f20" stroke-width="0.22" font-size="7.7" textLength="15.88" lengthAdjust="spacingAndGlyphs">3–4h</text>
<text x="151.9" y="385.05" stroke="#231f20" stroke-width="0.22" font-size="7.7" textLength="12.46" lengthAdjust="spacingAndGlyphs">24h</text>
<text x="102.83" y="353.97" stroke="#231f20" stroke-width="0.22" font-size="7.7" textLength="38.49" lengthAdjust="spacingAndGlyphs">+ AML cells</text>
<text x="16.15" y="398.38" stroke="#231f20" stroke-width="0.22" font-size="7.7" textLength="74.26" lengthAdjust="spacingAndGlyphs">Labelling mitochondria</text>
<text x="16.59" y="407.6" stroke="#231f20" stroke-width="0.22" font-size="7.7" textLength="76.93" lengthAdjust="spacingAndGlyphs">with <tspan fill="#39b54a" stroke="#39b54a">MitoTracker Green</tspan></text>
<text x="145.1" y="398.28" stroke="#231f20" stroke-width="0.22" font-size="7.7" text-anchor="middle" textLength="82.63" lengthAdjust="spacingAndGlyphs">Co-culture with MLL-AF9</text>
<text x="145.22" y="406.43" stroke="#231f20" stroke-width="0.22" font-size="7.7" text-anchor="middle" textLength="56.48" lengthAdjust="spacingAndGlyphs">AML cells with or</text>
<text x="144.92" y="416.02" stroke="#231f20" stroke-width="0.22" font-size="7.7" text-anchor="middle" textLength="46.18" lengthAdjust="spacingAndGlyphs">without Ara-C</text>
<rect x="225" y="374" width="75.5" height="23.5" fill="#fde4c3" stroke="#4a7eb5" stroke-width="0.9"/>
<circle cx="232.4" cy="381.2" r="1.2" fill="#231f20"/>
<text x="236.94" y="382.77" stroke="#231f20" stroke-width="0.22" font-size="7.7" textLength="57.91" lengthAdjust="spacingAndGlyphs">Confocal imaging</text>
<circle cx="232.4" cy="390" r="1.2" fill="#231f20"/>
<text x="236.3" y="392.68" stroke="#231f20" stroke-width="0.22" font-size="7.7" textLength="18.25" lengthAdjust="spacingAndGlyphs">FACS</text>
<text x="308.8" y="333.3" stroke="#111" stroke-width="0.45" font-size="11.9" fill="#111" font-weight="bold">G</text>
<text x="389.36" y="335.21" stroke="#231f20" stroke-width="0.22" font-size="7.7" textLength="79.95" lengthAdjust="spacingAndGlyphs">MSCs prior to co-culture</text>
<line x1="345" y1="340" x2="513.3" y2="340" stroke-width="1.2" stroke="#4a4a4a"/>
<text x="346.51" y="351.48" stroke="#231f20" stroke-width="0.22" font-size="7.7" textLength="38.63" lengthAdjust="spacingAndGlyphs">MitoTracker</text>
<text x="428.58" y="352.7" stroke="#231f20" stroke-width="0.22" font-size="7.7" text-anchor="middle" textLength="17.62" lengthAdjust="spacingAndGlyphs">MMP</text>
<text x="497.12" y="352.11" stroke="#231f20" stroke-width="0.22" font-size="7.7" text-anchor="middle" textLength="14.27" lengthAdjust="spacingAndGlyphs">ROS</text>
<line x1="344.7" y1="360" x2="344.7" y2="419.2" stroke-width="1.1"/>
<line x1="341.7" y1="363.8" x2="344.7" y2="363.8" stroke-width="0.95"/>
<text x="338.1" y="366.4" stroke="#231f20" stroke-width="0.22" font-size="7.8" text-anchor="end">2</text>
<line x1="341.7" y1="391.5" x2="344.7" y2="391.5" stroke-width="0.95"/>
<text x="338.1" y="394.1" stroke="#231f20" stroke-width="0.22" font-size="7.8" text-anchor="end">1</text>
<line x1="341.7" y1="419.2" x2="344.7" y2="419.2" stroke-width="0.95"/>
<text x="338.1" y="421.8" stroke="#231f20" stroke-width="0.22" font-size="7.8" text-anchor="end">0</text>
<line x1="344.15" y1="419.2" x2="380.7" y2="419.2" stroke-width="1.1"/>
<line x1="355.5" y1="419.2" x2="355.5" y2="422.2" stroke-width="0.95"/>
<line x1="371.2" y1="419.2" x2="371.2" y2="422.2" stroke-width="0.95"/>
<text x="317.35" y="389.1" stroke="#231f20" stroke-width="0.32" font-size="8.8" text-anchor="middle" textLength="63.29" lengthAdjust="spacingAndGlyphs" transform="rotate(-90 317.35 389.1)">Mitochondria mass</text>
<text x="327.7" y="389.82" stroke="#231f20" stroke-width="0.32" font-size="8.8" text-anchor="middle" textLength="87.17" lengthAdjust="spacingAndGlyphs" transform="rotate(-90 327.7 389.82)">(MitoTracker MFI in MSCs)</text>
<text x="350.96" y="367.82" stroke="#d6213f" stroke-width="0.08" font-size="7.6" fill="#d6213f" textLength="22.33" lengthAdjust="spacingAndGlyphs">0.0196</text>
<path d="M353,370.8 H371.6 M353,369.3 V372.3 M371.6,369.3 V372.3" fill="none" stroke="#3a3a3a" stroke-width="1.3"/>
<circle cx="350.8" cy="391.5" r="1.5" fill="#0d4f91"/>
<circle cx="355.5" cy="391.5" r="1.5" fill="#0d4f91"/>
<circle cx="359.6" cy="391.5" r="1.5" fill="#0d4f91"/>
<circle cx="371.2" cy="377.4" r="1.5" fill="#cf0a2c"/>
<circle cx="371.2" cy="381.8" r="1.5" fill="#cf0a2c"/>
<circle cx="371.2" cy="388" r="1.5" fill="#cf0a2c"/>
<line x1="366.5" y1="382.3" x2="376.1" y2="382.3" stroke-width="0.9" stroke="#cf0a2c"/>
<text x="337.93" y="447.55" stroke="#231f20" stroke-width="0.32" font-size="7.55" transform="rotate(-45 337.93 447.55)">Lama4<tspan font-size="5.2" dy="-2.8">+/+</tspan><tspan dy="2.8"></tspan></text>
<text x="354.5" y="446.32" stroke="#231f20" stroke-width="0.32" font-size="6.92" transform="rotate(-45 354.5 446.32)">Lama4<tspan font-size="5.2" dy="-2.8">−/−</tspan><tspan dy="2.8"></tspan></text>
<line x1="412.7" y1="360.8" x2="412.7" y2="417.6" stroke-width="1.1"/>
<line x1="409.7" y1="364.2" x2="412.7" y2="364.2" stroke-width="0.95"/>
<text x="406.9" y="366.8" stroke="#231f20" stroke-width="0.22" font-size="7.8" text-anchor="end">2.5</text>
<line x1="409.7" y1="374.9" x2="412.7" y2="374.9" stroke-width="0.95"/>
<text x="406.9" y="377.5" stroke="#231f20" stroke-width="0.22" font-size="7.8" text-anchor="end">2.0</text>
<line x1="409.7" y1="385.7" x2="412.7" y2="385.7" stroke-width="0.95"/>
<text x="406.9" y="388.3" stroke="#231f20" stroke-width="0.22" font-size="7.8" text-anchor="end">1.5</text>
<line x1="409.7" y1="396.3" x2="412.7" y2="396.3" stroke-width="0.95"/>
<text x="406.9" y="398.9" stroke="#231f20" stroke-width="0.22" font-size="7.8" text-anchor="end">1.0</text>
<line x1="409.7" y1="407.1" x2="412.7" y2="407.1" stroke-width="0.95"/>
<text x="406.9" y="409.7" stroke="#231f20" stroke-width="0.22" font-size="7.8" text-anchor="end">0.5</text>
<line x1="409.7" y1="417.6" x2="412.7" y2="417.6" stroke-width="0.95"/>
<text x="406.9" y="420.2" stroke="#231f20" stroke-width="0.22" font-size="7.8" text-anchor="end">0.0</text>
<line x1="412.15" y1="417.6" x2="444.3" y2="417.6" stroke-width="1.1"/>
<line x1="423" y1="417.6" x2="423" y2="420.6" stroke-width="0.95"/>
<line x1="438.5" y1="417.6" x2="438.5" y2="420.6" stroke-width="0.95"/>
<text x="390.4" y="389.57" stroke="#231f20" stroke-width="0.32" font-size="8.8" text-anchor="middle" textLength="45.68" lengthAdjust="spacingAndGlyphs" transform="rotate(-90 390.4 389.57)">MMP in MSCs</text>
<text x="418.35" y="366.93" stroke="#d6213f" stroke-width="0.08" font-size="7.6" fill="#d6213f" textLength="22.49" lengthAdjust="spacingAndGlyphs">0.0062</text>
<path d="M421.5,368.6 H437.6 M421.5,367.3 V369.9 M437.6,367.3 V369.9" fill="none" stroke="#333" stroke-width="1"/>
<circle cx="419" cy="396.5" r="1.5" fill="#0d4f91"/>
<circle cx="421.7" cy="396.5" r="1.5" fill="#0d4f91"/>
<circle cx="424.4" cy="396.5" r="1.5" fill="#0d4f91"/>
<circle cx="427.4" cy="396.5" r="1.5" fill="#0d4f91"/>
<circle cx="438.5" cy="379.5" r="1.5" fill="#cf0a2c"/>
<circle cx="438.5" cy="385.7" r="1.5" fill="#cf0a2c"/>
<circle cx="438.5" cy="388.9" r="1.5" fill="#cf0a2c"/>
<circle cx="438.5" cy="393" r="1.5" fill="#cf0a2c"/>
<line x1="433.8" y1="386.9" x2="443.3" y2="386.9" stroke-width="0.9" stroke="#cf0a2c"/>
<text x="405.75" y="446.69" stroke="#231f20" stroke-width="0.32" font-size="7.13" transform="rotate(-45 405.75 446.69)">Lama4<tspan font-size="5.2" dy="-2.8">+/+</tspan><tspan dy="2.8"></tspan></text>
<text x="422.41" y="446.24" stroke="#231f20" stroke-width="0.32" font-size="6.89" transform="rotate(-45 422.41 446.24)">Lama4<tspan font-size="5.2" dy="-2.8">−/−</tspan><tspan dy="2.8"></tspan></text>
<line x1="481.6" y1="361.3" x2="481.6" y2="417.1" stroke-width="1.1"/>
<line x1="478.6" y1="363.2" x2="481.6" y2="363.2" stroke-width="0.95"/>
<text x="475.3" y="365.8" stroke="#231f20" stroke-width="0.22" font-size="7.8" text-anchor="end">2.0</text>
<line x1="478.6" y1="376.7" x2="481.6" y2="376.7" stroke-width="0.95"/>
<text x="475.3" y="379.3" stroke="#231f20" stroke-width="0.22" font-size="7.8" text-anchor="end">1.5</text>
<line x1="478.6" y1="390.7" x2="481.6" y2="390.7" stroke-width="0.95"/>
<text x="475.3" y="393.3" stroke="#231f20" stroke-width="0.22" font-size="7.8" text-anchor="end">1.0</text>
<line x1="478.6" y1="404.2" x2="481.6" y2="404.2" stroke-width="0.95"/>
<text x="475.3" y="406.8" stroke="#231f20" stroke-width="0.22" font-size="7.8" text-anchor="end">0.5</text>
<line x1="478.6" y1="417.1" x2="481.6" y2="417.1" stroke-width="0.95"/>
<text x="475.3" y="419.7" stroke="#231f20" stroke-width="0.22" font-size="7.8" text-anchor="end">0.0</text>
<line x1="481.05" y1="417.1" x2="513.1" y2="417.1" stroke-width="1.1"/>
<line x1="491.6" y1="417.1" x2="491.6" y2="420.1" stroke-width="0.95"/>
<line x1="507" y1="417.1" x2="507" y2="420.1" stroke-width="0.95"/>
<text x="457.52" y="389.74" stroke="#231f20" stroke-width="0.32" font-size="8.8" text-anchor="middle" textLength="62.01" lengthAdjust="spacingAndGlyphs" transform="rotate(-90 457.52 389.74)">ROS in MSCs (MFI)</text>
<text x="486.44" y="366.5" stroke="#d6213f" stroke-width="0.08" font-size="7.6" fill="#d6213f" textLength="23.06" lengthAdjust="spacingAndGlyphs">0.0119</text>
<path d="M490,369.4 H506.5 M490,368.1 V370.7 M506.5,368.1 V370.7" fill="none" stroke="#333" stroke-width="1"/>
<circle cx="487.9" cy="390.7" r="1.5" fill="#0d4f91"/>
<circle cx="491.9" cy="390.7" r="1.5" fill="#0d4f91"/>
<circle cx="496" cy="390.7" r="1.5" fill="#0d4f91"/>
<circle cx="509" cy="374.8" r="1.5" fill="#cf0a2c"/>
<circle cx="505.1" cy="394.6" r="1.5" fill="#cf0a2c"/>
<circle cx="509.5" cy="396.2" r="1.5" fill="#cf0a2c"/>
<circle cx="507.3" cy="402" r="1.5" fill="#cf0a2c"/>
<line x1="502.1" y1="397.7" x2="511.7" y2="397.7" stroke-width="0.9" stroke="#cf0a2c"/>
<text x="475.85" y="446.64" stroke="#231f20" stroke-width="0.32" font-size="7.11" transform="rotate(-45 475.85 446.64)">Lama4<tspan font-size="5.2" dy="-2.8">+/+</tspan><tspan dy="2.8"></tspan></text>
<text x="491.84" y="446.89" stroke="#231f20" stroke-width="0.32" font-size="7.01" transform="rotate(-45 491.84 446.89)">Lama4<tspan font-size="5.2" dy="-2.8">−/−</tspan><tspan dy="2.8"></tspan></text>
<text x="7.1" y="467.9" stroke="#111" stroke-width="0.45" font-size="11.9" fill="#111" font-weight="bold">H</text>
<text x="64.02" y="499.11" stroke="#231f20" stroke-width="0.22" font-size="7.7" textLength="113.72" lengthAdjust="spacingAndGlyphs">Within PI<tspan font-size="5.2" dy="-2.8">−</tspan><tspan dy="2.8">MSCs prior to co-culture</tspan></text>
<line x1="34.6" y1="502.4" x2="208" y2="502.4" stroke-width="1.2" stroke="#4a4a4a"/>
<polyline points="34.38,552.15 43.85,552.15 46.15,540.38 47.88,523.08 49.04,511.54 49.85,509 50.54,509.23 51,517.31 51.92,528.85 53.08,538.08 54.81,548.46 55.96,551.92 79.61,552.15" fill="none" stroke="#2fb34a" stroke-width="0.85" stroke-linejoin="round"/>
<polyline points="56.54,552.15 63.46,551.92 65.77,549.61 68.08,543.84 69.81,538.08 71.54,533.46 73.27,523.08 74.42,520.77 75.58,509.23 76.15,510.38 77.31,518.46 77.88,515 78.46,511.54 79.04,528.85 79.61,536.92" fill="none" stroke="#2760a0" stroke-width="0.85" stroke-linejoin="round"/>
<polyline points="64.61,552.15 66.92,549.61 69.23,546.15 71.54,539.23 73.27,532.31 75,526.54 76.15,519.61 77.31,520.77 78.46,513.85 79.04,506.92 79.61,506.92" fill="none" stroke="#cf0a2c" stroke-width="0.85" stroke-linejoin="round"/>
<rect x="34.5" y="506.5" width="45.1" height="46" fill="none" stroke="#231f20" stroke-width="0.8"/>
<line x1="32.9" y1="552.5" x2="34.5" y2="552.5" stroke-width="0.5"/>
<line x1="32.9" y1="550.27" x2="34.5" y2="550.27" stroke-width="0.5"/>
<line x1="32.9" y1="548.05" x2="34.5" y2="548.05" stroke-width="0.5"/>
<line x1="32.9" y1="545.83" x2="34.5" y2="545.83" stroke-width="0.5"/>
<line x1="32.9" y1="543.6" x2="34.5" y2="543.6" stroke-width="0.5"/>
<line x1="32.9" y1="541.38" x2="34.5" y2="541.38" stroke-width="0.5"/>
<line x1="32.9" y1="539.15" x2="34.5" y2="539.15" stroke-width="0.5"/>
<line x1="32.9" y1="536.92" x2="34.5" y2="536.92" stroke-width="0.5"/>
<line x1="32.9" y1="534.7" x2="34.5" y2="534.7" stroke-width="0.5"/>
<line x1="32.9" y1="532.48" x2="34.5" y2="532.48" stroke-width="0.5"/>
<line x1="32.9" y1="530.25" x2="34.5" y2="530.25" stroke-width="0.5"/>
<line x1="32.9" y1="528.02" x2="34.5" y2="528.02" stroke-width="0.5"/>
<line x1="32.9" y1="525.8" x2="34.5" y2="525.8" stroke-width="0.5"/>
<line x1="32.9" y1="523.58" x2="34.5" y2="523.58" stroke-width="0.5"/>
<line x1="32.9" y1="521.35" x2="34.5" y2="521.35" stroke-width="0.5"/>
<line x1="32.9" y1="519.12" x2="34.5" y2="519.12" stroke-width="0.5"/>
<line x1="32.9" y1="516.9" x2="34.5" y2="516.9" stroke-width="0.5"/>
<line x1="32.9" y1="514.67" x2="34.5" y2="514.67" stroke-width="0.5"/>
<line x1="32.9" y1="512.45" x2="34.5" y2="512.45" stroke-width="0.5"/>
<line x1="32.9" y1="510.23" x2="34.5" y2="510.23" stroke-width="0.5"/>
<line x1="32.9" y1="508" x2="34.5" y2="508" stroke-width="0.5"/>
<line x1="34.5" y1="552.5" x2="34.5" y2="551.5" stroke-width="0.5"/>
<line x1="36.65" y1="552.5" x2="36.65" y2="551.5" stroke-width="0.5"/>
<line x1="38.8" y1="552.5" x2="38.8" y2="551.5" stroke-width="0.5"/>
<line x1="40.94" y1="552.5" x2="40.94" y2="551.5" stroke-width="0.5"/>
<line x1="43.09" y1="552.5" x2="43.09" y2="551.5" stroke-width="0.5"/>
<line x1="45.24" y1="552.5" x2="45.24" y2="551.5" stroke-width="0.5"/>
<line x1="47.39" y1="552.5" x2="47.39" y2="551.5" stroke-width="0.5"/>
<line x1="49.53" y1="552.5" x2="49.53" y2="551.5" stroke-width="0.5"/>
<line x1="51.68" y1="552.5" x2="51.68" y2="551.5" stroke-width="0.5"/>
<line x1="53.83" y1="552.5" x2="53.83" y2="551.5" stroke-width="0.5"/>
<line x1="55.98" y1="552.5" x2="55.98" y2="551.5" stroke-width="0.5"/>
<line x1="58.12" y1="552.5" x2="58.12" y2="551.5" stroke-width="0.5"/>
<line x1="60.27" y1="552.5" x2="60.27" y2="551.5" stroke-width="0.5"/>
<line x1="62.42" y1="552.5" x2="62.42" y2="551.5" stroke-width="0.5"/>
<line x1="64.57" y1="552.5" x2="64.57" y2="551.5" stroke-width="0.5"/>
<line x1="66.71" y1="552.5" x2="66.71" y2="551.5" stroke-width="0.5"/>
<line x1="68.86" y1="552.5" x2="68.86" y2="551.5" stroke-width="0.5"/>
<line x1="71.01" y1="552.5" x2="71.01" y2="551.5" stroke-width="0.5"/>
<line x1="73.16" y1="552.5" x2="73.16" y2="551.5" stroke-width="0.5"/>
<line x1="75.3" y1="552.5" x2="75.3" y2="551.5" stroke-width="0.5"/>
<line x1="77.45" y1="552.5" x2="77.45" y2="551.5" stroke-width="0.5"/>
<line x1="79.6" y1="552.5" x2="79.6" y2="551.5" stroke-width="0.5"/>
<polyline points="98.65,552.84 106.15,552.84 107.31,543.84 108.46,523.08 109.38,511.54 110.19,509.23 110.77,513.85 111.92,519.61 113.08,528.85 114.23,538.08 115.96,548.46 117.69,552.5 144.23,552.84" fill="none" stroke="#2fb34a" stroke-width="0.85" stroke-linejoin="round"/>
<polyline points="107.31,552.84 114.23,551.92 117.69,550.77 120,548.46 123.46,547.31 125.19,543.84 126.92,534.61 128.65,528.85 129.81,518.46 130.96,523.08 132.11,515 133.61,509.23 134.42,512.69 135.58,515 136.73,513.85 137.88,523.08 139.61,528.85 141.34,536.92 142.5,543.84 144.23,549.61" fill="none" stroke="#2760a0" stroke-width="0.85" stroke-linejoin="round"/>
<polyline points="106.15,552.84 118.85,552.5 121.73,551.92 123.46,550.77 125.77,546.15 127.5,543.84 129.81,536.92 131.54,533.46 133.27,528.85 135,523.08 136.15,517.31 137.31,512.69 138.46,509.23 139.61,511.54 140.77,517.31 141.92,523.08 143.07,530 144.23,536.92" fill="none" stroke="#cf0a2c" stroke-width="0.85" stroke-linejoin="round"/>
<rect x="98.7" y="506.5" width="45.5" height="46.5" fill="none" stroke="#231f20" stroke-width="0.8"/>
<line x1="97.1" y1="553" x2="98.7" y2="553" stroke-width="0.5"/>
<line x1="97.1" y1="550.75" x2="98.7" y2="550.75" stroke-width="0.5"/>
<line x1="97.1" y1="548.5" x2="98.7" y2="548.5" stroke-width="0.5"/>
<line x1="97.1" y1="546.25" x2="98.7" y2="546.25" stroke-width="0.5"/>
<line x1="97.1" y1="544" x2="98.7" y2="544" stroke-width="0.5"/>
<line x1="97.1" y1="541.75" x2="98.7" y2="541.75" stroke-width="0.5"/>
<line x1="97.1" y1="539.5" x2="98.7" y2="539.5" stroke-width="0.5"/>
<line x1="97.1" y1="537.25" x2="98.7" y2="537.25" stroke-width="0.5"/>
<line x1="97.1" y1="535" x2="98.7" y2="535" stroke-width="0.5"/>
<line x1="97.1" y1="532.75" x2="98.7" y2="532.75" stroke-width="0.5"/>
<line x1="97.1" y1="530.5" x2="98.7" y2="530.5" stroke-width="0.5"/>
<line x1="97.1" y1="528.25" x2="98.7" y2="528.25" stroke-width="0.5"/>
<line x1="97.1" y1="526" x2="98.7" y2="526" stroke-width="0.5"/>
<line x1="97.1" y1="523.75" x2="98.7" y2="523.75" stroke-width="0.5"/>
<line x1="97.1" y1="521.5" x2="98.7" y2="521.5" stroke-width="0.5"/>
<line x1="97.1" y1="519.25" x2="98.7" y2="519.25" stroke-width="0.5"/>
<line x1="97.1" y1="517" x2="98.7" y2="517" stroke-width="0.5"/>
<line x1="97.1" y1="514.75" x2="98.7" y2="514.75" stroke-width="0.5"/>
<line x1="97.1" y1="512.5" x2="98.7" y2="512.5" stroke-width="0.5"/>
<line x1="97.1" y1="510.25" x2="98.7" y2="510.25" stroke-width="0.5"/>
<line x1="97.1" y1="508" x2="98.7" y2="508" stroke-width="0.5"/>
<line x1="98.7" y1="553" x2="98.7" y2="552" stroke-width="0.5"/>
<line x1="100.87" y1="553" x2="100.87" y2="552" stroke-width="0.5"/>
<line x1="103.03" y1="553" x2="103.03" y2="552" stroke-width="0.5"/>
<line x1="105.2" y1="553" x2="105.2" y2="552" stroke-width="0.5"/>
<line x1="107.37" y1="553" x2="107.37" y2="552" stroke-width="0.5"/>
<line x1="109.53" y1="553" x2="109.53" y2="552" stroke-width="0.5"/>
<line x1="111.7" y1="553" x2="111.7" y2="552" stroke-width="0.5"/>
<line x1="113.87" y1="553" x2="113.87" y2="552" stroke-width="0.5"/>
<line x1="116.03" y1="553" x2="116.03" y2="552" stroke-width="0.5"/>
<line x1="118.2" y1="553" x2="118.2" y2="552" stroke-width="0.5"/>
<line x1="120.37" y1="553" x2="120.37" y2="552" stroke-width="0.5"/>
<line x1="122.53" y1="553" x2="122.53" y2="552" stroke-width="0.5"/>
<line x1="124.7" y1="553" x2="124.7" y2="552" stroke-width="0.5"/>
<line x1="126.87" y1="553" x2="126.87" y2="552" stroke-width="0.5"/>
<line x1="129.03" y1="553" x2="129.03" y2="552" stroke-width="0.5"/>
<line x1="131.2" y1="553" x2="131.2" y2="552" stroke-width="0.5"/>
<line x1="133.37" y1="553" x2="133.37" y2="552" stroke-width="0.5"/>
<line x1="135.53" y1="553" x2="135.53" y2="552" stroke-width="0.5"/>
<line x1="137.7" y1="553" x2="137.7" y2="552" stroke-width="0.5"/>
<line x1="139.87" y1="553" x2="139.87" y2="552" stroke-width="0.5"/>
<line x1="142.03" y1="553" x2="142.03" y2="552" stroke-width="0.5"/>
<line x1="144.2" y1="553" x2="144.2" y2="552" stroke-width="0.5"/>
<polyline points="161.35,552.5 170.58,552.15 172.31,543.84 174.04,528.85 175.54,513.85 176.35,509.23 177.15,513.85 178.65,528.85 180.38,546.15 181.54,552.15 205.77,552.5" fill="none" stroke="#2fb34a" stroke-width="0.85" stroke-linejoin="round"/>
<polyline points="171.15,552.5 180.38,551.92 182.69,548.46 185,540.38 186.73,528.85 187.88,517.31 189.38,509.23 190.19,512.69 191.34,520.77 192.5,517.31 193.65,520.77 194.23,519.61 195.38,528.85 196.54,533.46 197.69,534.61 198.84,538.08 200.58,539.23 201.73,538.08 202.88,541.54 204.04,543.84 205.19,547.31 205.77,532.31" fill="none" stroke="#2760a0" stroke-width="0.85" stroke-linejoin="round"/>
<polyline points="172.31,552.5 182.11,551.92 183.85,548.46 185.58,538.08 187.31,523.08 188.46,513.85 189.61,510.38 190.77,516.15 191.92,523.08 193.08,528.85 194.81,536.92 195.96,540.38 197.69,542.69 200,545 202.31,546.15 204.04,548.46 205.77,549.61" fill="none" stroke="#cf0a2c" stroke-width="0.85" stroke-linejoin="round"/>
<rect x="161.3" y="507.5" width="44.5" height="45.3" fill="none" stroke="#231f20" stroke-width="0.8"/>
<line x1="159.7" y1="552.8" x2="161.3" y2="552.8" stroke-width="0.5"/>
<line x1="159.7" y1="550.61" x2="161.3" y2="550.61" stroke-width="0.5"/>
<line x1="159.7" y1="548.42" x2="161.3" y2="548.42" stroke-width="0.5"/>
<line x1="159.7" y1="546.23" x2="161.3" y2="546.23" stroke-width="0.5"/>
<line x1="159.7" y1="544.04" x2="161.3" y2="544.04" stroke-width="0.5"/>
<line x1="159.7" y1="541.85" x2="161.3" y2="541.85" stroke-width="0.5"/>
<line x1="159.7" y1="539.66" x2="161.3" y2="539.66" stroke-width="0.5"/>
<line x1="159.7" y1="537.47" x2="161.3" y2="537.47" stroke-width="0.5"/>
<line x1="159.7" y1="535.28" x2="161.3" y2="535.28" stroke-width="0.5"/>
<line x1="159.7" y1="533.09" x2="161.3" y2="533.09" stroke-width="0.5"/>
<line x1="159.7" y1="530.9" x2="161.3" y2="530.9" stroke-width="0.5"/>
<line x1="159.7" y1="528.71" x2="161.3" y2="528.71" stroke-width="0.5"/>
<line x1="159.7" y1="526.52" x2="161.3" y2="526.52" stroke-width="0.5"/>
<line x1="159.7" y1="524.33" x2="161.3" y2="524.33" stroke-width="0.5"/>
<line x1="159.7" y1="522.14" x2="161.3" y2="522.14" stroke-width="0.5"/>
<line x1="159.7" y1="519.95" x2="161.3" y2="519.95" stroke-width="0.5"/>
<line x1="159.7" y1="517.76" x2="161.3" y2="517.76" stroke-width="0.5"/>
<line x1="159.7" y1="515.57" x2="161.3" y2="515.57" stroke-width="0.5"/>
<line x1="159.7" y1="513.38" x2="161.3" y2="513.38" stroke-width="0.5"/>
<line x1="159.7" y1="511.19" x2="161.3" y2="511.19" stroke-width="0.5"/>
<line x1="159.7" y1="509" x2="161.3" y2="509" stroke-width="0.5"/>
<line x1="161.3" y1="552.8" x2="161.3" y2="551.8" stroke-width="0.5"/>
<line x1="163.42" y1="552.8" x2="163.42" y2="551.8" stroke-width="0.5"/>
<line x1="165.54" y1="552.8" x2="165.54" y2="551.8" stroke-width="0.5"/>
<line x1="167.66" y1="552.8" x2="167.66" y2="551.8" stroke-width="0.5"/>
<line x1="169.78" y1="552.8" x2="169.78" y2="551.8" stroke-width="0.5"/>
<line x1="171.9" y1="552.8" x2="171.9" y2="551.8" stroke-width="0.5"/>
<line x1="174.01" y1="552.8" x2="174.01" y2="551.8" stroke-width="0.5"/>
<line x1="176.13" y1="552.8" x2="176.13" y2="551.8" stroke-width="0.5"/>
<line x1="178.25" y1="552.8" x2="178.25" y2="551.8" stroke-width="0.5"/>
<line x1="180.37" y1="552.8" x2="180.37" y2="551.8" stroke-width="0.5"/>
<line x1="182.49" y1="552.8" x2="182.49" y2="551.8" stroke-width="0.5"/>
<line x1="184.61" y1="552.8" x2="184.61" y2="551.8" stroke-width="0.5"/>
<line x1="186.73" y1="552.8" x2="186.73" y2="551.8" stroke-width="0.5"/>
<line x1="188.85" y1="552.8" x2="188.85" y2="551.8" stroke-width="0.5"/>
<line x1="190.97" y1="552.8" x2="190.97" y2="551.8" stroke-width="0.5"/>
<line x1="193.09" y1="552.8" x2="193.09" y2="551.8" stroke-width="0.5"/>
<line x1="195.2" y1="552.8" x2="195.2" y2="551.8" stroke-width="0.5"/>
<line x1="197.32" y1="552.8" x2="197.32" y2="551.8" stroke-width="0.5"/>
<line x1="199.44" y1="552.8" x2="199.44" y2="551.8" stroke-width="0.5"/>
<line x1="201.56" y1="552.8" x2="201.56" y2="551.8" stroke-width="0.5"/>
<line x1="203.68" y1="552.8" x2="203.68" y2="551.8" stroke-width="0.5"/>
<line x1="205.8" y1="552.8" x2="205.8" y2="551.8" stroke-width="0.5"/>
<text x="30.4" y="510.6" stroke="#231f20" stroke-width="0.22" font-size="7.7" text-anchor="end">100</text>
<text x="30.4" y="519.45" stroke="#231f20" stroke-width="0.22" font-size="7.7" text-anchor="end">80</text>
<text x="30.4" y="528.3" stroke="#231f20" stroke-width="0.22" font-size="7.7" text-anchor="end">60</text>
<text x="30.4" y="537.15" stroke="#231f20" stroke-width="0.22" font-size="7.7" text-anchor="end">40</text>
<text x="30.4" y="546" stroke="#231f20" stroke-width="0.22" font-size="7.7" text-anchor="end">20</text>
<text x="30.4" y="554.85" stroke="#231f20" stroke-width="0.22" font-size="7.7" text-anchor="end">0</text>
<text x="94.4" y="510.6" stroke="#231f20" stroke-width="0.22" font-size="7.7" text-anchor="end">100</text>
<text x="94.4" y="519.45" stroke="#231f20" stroke-width="0.22" font-size="7.7" text-anchor="end">80</text>
<text x="94.4" y="528.3" stroke="#231f20" stroke-width="0.22" font-size="7.7" text-anchor="end">60</text>
<text x="94.4" y="537.15" stroke="#231f20" stroke-width="0.22" font-size="7.7" text-anchor="end">40</text>
<text x="94.4" y="546" stroke="#231f20" stroke-width="0.22" font-size="7.7" text-anchor="end">20</text>
<text x="94.4" y="554.85" stroke="#231f20" stroke-width="0.22" font-size="7.7" text-anchor="end">0</text>
<text x="160.2" y="511.2" stroke="#231f20" stroke-width="0.22" font-size="7.7" text-anchor="end">100</text>
<text x="160.2" y="520.05" stroke="#231f20" stroke-width="0.22" font-size="7.7" text-anchor="end">80</text>
<text x="160.2" y="528.9" stroke="#231f20" stroke-width="0.22" font-size="7.7" text-anchor="end">60</text>
<text x="160.2" y="537.75" stroke="#231f20" stroke-width="0.22" font-size="7.7" text-anchor="end">40</text>
<text x="160.2" y="546.6" stroke="#231f20" stroke-width="0.22" font-size="7.7" text-anchor="end">20</text>
<text x="160.2" y="555.45" stroke="#231f20" stroke-width="0.22" font-size="7.7" text-anchor="end">0</text>
<text x="15.13" y="529.59" stroke="#231f20" stroke-width="0.32" font-size="8.8" text-anchor="middle" textLength="26.9" lengthAdjust="spacingAndGlyphs" transform="rotate(-90 15.13 529.59)">% of max</text>
<text x="36.6" y="562" stroke="#231f20" stroke-width="0.22" font-size="7.2">0</text>
<text x="40.6" y="562" stroke="#231f20" stroke-width="0.22" font-size="7">10<tspan font-size="4.2" dy="-2.5">2</tspan><tspan dy="2.5"></tspan></text>
<text x="51.4" y="562" stroke="#231f20" stroke-width="0.22" font-size="7">10<tspan font-size="4.2" dy="-2.5">3</tspan><tspan dy="2.5"></tspan></text>
<text x="62.4" y="562" stroke="#231f20" stroke-width="0.22" font-size="7">10<tspan font-size="4.2" dy="-2.5">4</tspan><tspan dy="2.5"></tspan></text>
<text x="73.2" y="562" stroke="#231f20" stroke-width="0.22" font-size="7">10<tspan font-size="4.2" dy="-2.5">5</tspan><tspan dy="2.5"></tspan></text>
<text x="103" y="562" stroke="#231f20" stroke-width="0.22" font-size="7.2">0</text>
<text x="108.4" y="562" stroke="#231f20" stroke-width="0.22" font-size="7">10<tspan font-size="4.2" dy="-2.5">3</tspan><tspan dy="2.5"></tspan></text>
<text x="121.4" y="562" stroke="#231f20" stroke-width="0.22" font-size="7">10<tspan font-size="4.2" dy="-2.5">4</tspan><tspan dy="2.5"></tspan></text>
<text x="135.4" y="562" stroke="#231f20" stroke-width="0.22" font-size="7">10<tspan font-size="4.2" dy="-2.5">5</tspan><tspan dy="2.5"></tspan></text>
<text x="163" y="562" stroke="#231f20" stroke-width="0.22" font-size="7.2">0</text>
<text x="167" y="562" stroke="#231f20" stroke-width="0.22" font-size="7">10<tspan font-size="4.2" dy="-2.5">2</tspan><tspan dy="2.5"></tspan></text>
<text x="177.6" y="562" stroke="#231f20" stroke-width="0.22" font-size="7">10<tspan font-size="4.2" dy="-2.5">3</tspan><tspan dy="2.5"></tspan></text>
<text x="188" y="562" stroke="#231f20" stroke-width="0.22" font-size="7">10<tspan font-size="4.2" dy="-2.5">4</tspan><tspan dy="2.5"></tspan></text>
<text x="198.6" y="562" stroke="#231f20" stroke-width="0.22" font-size="7">10<tspan font-size="4.2" dy="-2.5">5</tspan><tspan dy="2.5"></tspan></text>
<text x="57.19" y="575.83" stroke="#231f20" stroke-width="0.22" font-size="8.6" text-anchor="middle" textLength="37.96" lengthAdjust="spacingAndGlyphs">MitoTracker</text>
<text x="121.61" y="574.79" stroke="#231f20" stroke-width="0.22" font-size="8.6" text-anchor="middle" textLength="46.39" lengthAdjust="spacingAndGlyphs">MMP (TMRM)</text>
<text x="183.5" y="575.27" stroke="#231f20" stroke-width="0.22" font-size="8.6" text-anchor="middle" textLength="13" lengthAdjust="spacingAndGlyphs">ROS</text>
<rect x="52.9" y="586.3" width="3.4" height="3.4" fill="#2fb34a"/>
<text x="57.96" y="590.23" stroke="#231f20" stroke-width="0.22" font-size="7.5" textLength="32.76" lengthAdjust="spacingAndGlyphs">Unstained</text>
<rect x="94.5" y="586.3" width="3.4" height="3.4" fill="#1f5c99"/>
<text x="99.54" y="590.69" stroke="#231f20" stroke-width="0.22" font-size="7.5" textLength="29.63" lengthAdjust="spacingAndGlyphs"><tspan font-style="italic">Lama4</tspan><tspan font-size="5.2" dy="-2.8">+/+</tspan><tspan dy="2.8"></tspan></text>
<rect x="133.5" y="586.3" width="3.4" height="3.4" fill="#cf0a2c"/>
<text x="139.56" y="590.29" stroke="#231f20" stroke-width="0.22" font-size="7.5" textLength="29.26" lengthAdjust="spacingAndGlyphs"><tspan font-style="italic">Lama4</tspan><tspan font-size="5.2" dy="-2.8">−/−</tspan><tspan dy="2.8"></tspan></text>
<text x="214.7" y="467.9" stroke="#111" stroke-width="0.45" font-size="11.9" fill="#111" font-weight="bold">I</text>
<text x="247.54" y="484.48" stroke="#231f20" stroke-width="0.22" font-size="7.7" textLength="94.14" lengthAdjust="spacingAndGlyphs">Mitochondrial mass in MSCs</text>
<text x="249.77" y="493.61" stroke="#231f20" stroke-width="0.22" font-size="7.7" textLength="89.01" lengthAdjust="spacingAndGlyphs">during co-culture with AML</text>
<line x1="248.9" y1="497.8" x2="248.9" y2="552.2" stroke-width="1.1"/>
<line x1="245.9" y1="499.6" x2="248.9" y2="499.6" stroke-width="0.95"/>
<text x="242.8" y="502.2" stroke="#231f20" stroke-width="0.22" font-size="7.8" text-anchor="end">5</text>
<line x1="245.9" y1="510.7" x2="248.9" y2="510.7" stroke-width="0.95"/>
<text x="242.8" y="513.3" stroke="#231f20" stroke-width="0.22" font-size="7.8" text-anchor="end">4</text>
<line x1="245.9" y1="521.2" x2="248.9" y2="521.2" stroke-width="0.95"/>
<text x="242.8" y="523.8" stroke="#231f20" stroke-width="0.22" font-size="7.8" text-anchor="end">3</text>
<line x1="245.9" y1="531.6" x2="248.9" y2="531.6" stroke-width="0.95"/>
<text x="242.8" y="534.2" stroke="#231f20" stroke-width="0.22" font-size="7.8" text-anchor="end">2</text>
<line x1="245.9" y1="542.1" x2="248.9" y2="542.1" stroke-width="0.95"/>
<text x="242.8" y="544.7" stroke="#231f20" stroke-width="0.22" font-size="7.8" text-anchor="end">1</text>
<line x1="245.9" y1="552.2" x2="248.9" y2="552.2" stroke-width="0.95"/>
<text x="242.8" y="554.8" stroke="#231f20" stroke-width="0.22" font-size="7.8" text-anchor="end">0</text>
<text x="223.33" y="524.3" stroke="#231f20" stroke-width="0.32" font-size="8.8" text-anchor="middle" textLength="81.23" lengthAdjust="spacingAndGlyphs" transform="rotate(-90 223.33 524.3)">MitoTracker MFI in MSCs</text>
<text x="233.53" y="525" stroke="#231f20" stroke-width="0.32" font-size="8.8" text-anchor="middle" textLength="66" lengthAdjust="spacingAndGlyphs" transform="rotate(-90 233.53 525)"><tspan font-style="italic">Lama4</tspan><tspan font-size="5.2" dy="-2.8">−/−</tspan><tspan dy="2.8">/<tspan font-style="italic">Lama4</tspan> <tspan font-size="5.2" dy="-2.8">+/+</tspan><tspan dy="2.8"></tspan></tspan></text>
<rect x="256.2" y="541.8" width="12.1" height="10.6" fill="#7097c1"/>
<rect x="272.9" y="536.9" width="12.7" height="15.5" fill="#a6dca0"/>
<rect x="299" y="542.3" width="12.8" height="10.1" fill="#a991c5"/>
<rect x="316.2" y="537.7" width="12.6" height="14.7" fill="#fbc57e"/>
<line x1="248.35" y1="552.4" x2="332.6" y2="552.4" stroke-width="1.1"/>
<line x1="262.3" y1="552.4" x2="262.3" y2="555.4" stroke-width="0.95"/>
<line x1="279.2" y1="552.4" x2="279.2" y2="555.4" stroke-width="0.95"/>
<line x1="305.4" y1="552.4" x2="305.4" y2="555.4" stroke-width="0.95"/>
<line x1="322.5" y1="552.4" x2="322.5" y2="555.4" stroke-width="0.95"/>
<circle cx="257.4" cy="541.8" r="1" fill="#174f8c"/>
<circle cx="258.95" cy="542.6" r="1" fill="#174f8c"/>
<circle cx="260.5" cy="541.8" r="1" fill="#174f8c"/>
<circle cx="262.05" cy="542.6" r="1" fill="#174f8c"/>
<circle cx="263.6" cy="541.8" r="1" fill="#174f8c"/>
<circle cx="265.15" cy="542.6" r="1" fill="#174f8c"/>
<circle cx="266.7" cy="541.8" r="1" fill="#174f8c"/>
<circle cx="268.25" cy="542.6" r="1" fill="#174f8c"/>
<circle cx="273.5" cy="537" r="1" fill="#37b94a"/>
<circle cx="275.5" cy="540.6" r="1" fill="#37b94a"/>
<circle cx="277.6" cy="538" r="1" fill="#37b94a"/>
<circle cx="279.8" cy="536.2" r="1" fill="#37b94a"/>
<circle cx="281.8" cy="539.8" r="1" fill="#37b94a"/>
<circle cx="283.6" cy="537.6" r="1" fill="#37b94a"/>
<circle cx="276.3" cy="541.3" r="1" fill="#37b94a"/>
<circle cx="280.6" cy="541" r="1" fill="#37b94a"/>
<circle cx="278.9" cy="511.9" r="1" fill="#37b94a"/>
<circle cx="301" cy="542.4" r="1" fill="#5f2c8a"/>
<circle cx="303" cy="543.2" r="1" fill="#5f2c8a"/>
<circle cx="305" cy="542.4" r="1" fill="#5f2c8a"/>
<circle cx="307" cy="543.2" r="1" fill="#5f2c8a"/>
<circle cx="309" cy="542.4" r="1" fill="#5f2c8a"/>
<circle cx="311" cy="543.2" r="1" fill="#5f2c8a"/>
<circle cx="317.4" cy="537.4" r="1" fill="#f7941d"/>
<circle cx="319.6" cy="538.6" r="1" fill="#f7941d"/>
<circle cx="321.6" cy="535.2" r="1" fill="#f7941d"/>
<circle cx="324" cy="537" r="1" fill="#f7941d"/>
<circle cx="326.2" cy="535.6" r="1" fill="#f7941d"/>
<circle cx="328.4" cy="537.6" r="1" fill="#f7941d"/>
<circle cx="323" cy="538.6" r="1" fill="#f7941d"/>
<text x="258.34" y="504.77" stroke="#d6213f" stroke-width="0.08" font-size="7.6" fill="#d6213f" textLength="21.38" lengthAdjust="spacingAndGlyphs">0.0001</text>
<path d="M258.2,507.6 H281 M258.2,506.3 V508.9 M281,506.3 V508.9" fill="none" stroke="#333" stroke-width="1"/>
<text x="302.8" y="528.52" stroke="#d6213f" stroke-width="0.08" font-size="7.6" fill="#d6213f" textLength="25.35" lengthAdjust="spacingAndGlyphs">&lt;0.0001</text>
<path d="M305.8,530.6 H323.8 M305.8,529.3 V531.9 M323.8,529.3 V531.9" fill="none" stroke="#333" stroke-width="1"/>
<text x="228.8" y="595.55" stroke="#231f20" stroke-width="0.32" font-size="7.16" transform="rotate(-45 228.8 595.55)">Lama4<tspan font-size="5.2" dy="-2.8">+/+</tspan><tspan dy="2.8"> MSC</tspan></text>
<text x="245.7" y="594.32" stroke="#231f20" stroke-width="0.32" font-size="6.72" transform="rotate(-45 245.7 594.32)">Lama4<tspan font-size="5.2" dy="-2.8">−/−</tspan><tspan dy="2.8"> MSC</tspan></text>
<text x="273.53" y="595.6" stroke="#231f20" stroke-width="0.32" font-size="7.05" transform="rotate(-45 273.53 595.6)">Lama4<tspan font-size="5.2" dy="-2.8">+/+</tspan><tspan dy="2.8"> MSC</tspan></text>
<text x="291.38" y="594.67" stroke="#231f20" stroke-width="0.32" font-size="6.83" transform="rotate(-45 291.38 594.67)">Lama4<tspan font-size="5.2" dy="-2.8">−/−</tspan><tspan dy="2.8"> MSC</tspan></text>
<line x1="228.3" y1="599.3" x2="254.4" y2="599.3" stroke-width="0.9"/>
<line x1="267.1" y1="599.3" x2="314.5" y2="599.3" stroke-width="0.9"/>
<text x="241.14" y="606.99" stroke="#231f20" stroke-width="0.22" font-size="7.5" text-anchor="middle" textLength="20.47" lengthAdjust="spacingAndGlyphs">+AML</text>
<text x="291.48" y="606.69" stroke="#231f20" stroke-width="0.22" font-size="7.5" text-anchor="middle" textLength="45.05" lengthAdjust="spacingAndGlyphs">+AML&amp;Ara-C</text>
<text x="346.6" y="467.7" stroke="#111" stroke-width="0.45" font-size="11.9" fill="#111" font-weight="bold">J</text>
<text x="385.42" y="465.98" stroke="#231f20" stroke-width="0.22" font-size="7.7" textLength="112.88" lengthAdjust="spacingAndGlyphs">Mitochondrial uptake in AML cells</text>
<line x1="382.5" y1="468.4" x2="501.6" y2="468.4" stroke-width="1.2" stroke="#4a4a4a"/>
<text x="406.43" y="486.32" stroke="#231f20" stroke-width="0.22" font-size="7.7" text-anchor="middle" textLength="22.53" lengthAdjust="spacingAndGlyphs">−Ara-C</text>
<text x="494.44" y="485.91" stroke="#231f20" stroke-width="0.22" font-size="7.7" text-anchor="middle" textLength="23.74" lengthAdjust="spacingAndGlyphs">+Ara-C</text>
<rect x="394" y="523.6" width="9.8" height="29.4" fill="#739dc8"/>
<rect x="413.3" y="528" width="10.4" height="25" fill="#e88a9c"/>
<line x1="388.3" y1="493.4" x2="388.3" y2="553" stroke-width="1.1"/>
<line x1="385.3" y1="496.8" x2="388.3" y2="496.8" stroke-width="0.95"/>
<text x="382.2" y="499.4" stroke="#231f20" stroke-width="0.22" font-size="7.8" text-anchor="end">1.5</text>
<line x1="385.3" y1="525" x2="388.3" y2="525" stroke-width="0.95"/>
<text x="382.2" y="527.6" stroke="#231f20" stroke-width="0.22" font-size="7.8" text-anchor="end">1.0</text>
<line x1="385.3" y1="553" x2="388.3" y2="553" stroke-width="0.95"/>
<text x="382.2" y="555.6" stroke="#231f20" stroke-width="0.22" font-size="7.8" text-anchor="end">0.5</text>
<line x1="387.75" y1="553" x2="427" y2="553" stroke-width="1.1"/>
<line x1="398.8" y1="553" x2="398.8" y2="556" stroke-width="0.95"/>
<line x1="418.5" y1="553" x2="418.5" y2="556" stroke-width="0.95"/>
<text x="355.4" y="522.96" stroke="#231f20" stroke-width="0.32" font-size="8.8" text-anchor="middle" textLength="99.55" lengthAdjust="spacingAndGlyphs" transform="rotate(-90 355.4 522.96)">Relative MFI of MitoTracker in</text>
<text x="366.71" y="522.46" stroke="#231f20" stroke-width="0.32" font-size="8.8" text-anchor="middle" textLength="98.56" lengthAdjust="spacingAndGlyphs" transform="rotate(-90 366.71 522.46)">AML cells cocultured with MSC</text>
<text x="397.78" y="502.59" stroke="#231f20" stroke-width="0.22" font-size="7.6" textLength="22.54" lengthAdjust="spacingAndGlyphs">0.0514</text>
<path d="M400,505.1 H419 M400,503.8 V506.4 M419,503.8 V506.4" fill="none" stroke="#333" stroke-width="1"/>
<circle cx="395.2" cy="524.8" r="1" fill="#174f8c"/>
<circle cx="397.2" cy="523.6" r="1" fill="#174f8c"/>
<circle cx="399.2" cy="525.2" r="1" fill="#174f8c"/>
<circle cx="401.2" cy="524" r="1" fill="#174f8c"/>
<circle cx="403" cy="525" r="1" fill="#174f8c"/>
<circle cx="414.4" cy="527.6" r="1" fill="#cf0a2c"/>
<circle cx="416.6" cy="528.6" r="1" fill="#cf0a2c"/>
<circle cx="418.5" cy="524.5" r="1" fill="#cf0a2c"/>
<circle cx="420.4" cy="528.2" r="1" fill="#cf0a2c"/>
<circle cx="422.6" cy="527.4" r="1" fill="#cf0a2c"/>
<circle cx="418.5" cy="537.5" r="1" fill="#cf0a2c"/>
<circle cx="416.4" cy="532.6" r="1" fill="#cf0a2c"/>
<rect x="478.5" y="538.9" width="10.3" height="13.4" fill="#739dc8"/>
<rect x="498" y="530.8" width="10" height="21.5" fill="#e88a9c"/>
<line x1="473.4" y1="495" x2="473.4" y2="552.2" stroke-width="1.1"/>
<line x1="470.4" y1="496.8" x2="473.4" y2="496.8" stroke-width="0.95"/>
<text x="470" y="499.4" stroke="#231f20" stroke-width="0.22" font-size="7.8" text-anchor="end">1.6</text>
<line x1="470.4" y1="510.7" x2="473.4" y2="510.7" stroke-width="0.95"/>
<text x="470" y="513.3" stroke="#231f20" stroke-width="0.22" font-size="7.8" text-anchor="end">1.4</text>
<line x1="470.4" y1="524.5" x2="473.4" y2="524.5" stroke-width="0.95"/>
<text x="470" y="527.1" stroke="#231f20" stroke-width="0.22" font-size="7.8" text-anchor="end">1.2</text>
<line x1="470.4" y1="538.4" x2="473.4" y2="538.4" stroke-width="0.95"/>
<text x="470" y="541" stroke="#231f20" stroke-width="0.22" font-size="7.8" text-anchor="end">1.0</text>
<line x1="470.4" y1="552.2" x2="473.4" y2="552.2" stroke-width="0.95"/>
<text x="470" y="554.8" stroke="#231f20" stroke-width="0.22" font-size="7.8" text-anchor="end">0.8</text>
<line x1="472.85" y1="552.2" x2="513.1" y2="552.2" stroke-width="1.1"/>
<line x1="483.7" y1="552.2" x2="483.7" y2="555.2" stroke-width="0.95"/>
<line x1="503.9" y1="552.2" x2="503.9" y2="555.2" stroke-width="0.95"/>
<text x="440.42" y="523.42" stroke="#231f20" stroke-width="0.32" font-size="8.8" text-anchor="middle" textLength="100.08" lengthAdjust="spacingAndGlyphs" transform="rotate(-90 440.42 523.42)">Relative MFI of MitoTracker in</text>
<text x="450.94" y="523.12" stroke="#231f20" stroke-width="0.32" font-size="8.8" text-anchor="middle" textLength="99.6" lengthAdjust="spacingAndGlyphs" transform="rotate(-90 450.94 523.12)">AML cells cocultured with MSC</text>
<text x="483.01" y="503.37" stroke="#d6213f" stroke-width="0.08" font-size="7.6" fill="#d6213f" textLength="23" lengthAdjust="spacingAndGlyphs">0.0166</text>
<path d="M484.2,505.8 H503.2 M484.2,504.5 V507.1 M503.2,504.5 V507.1" fill="none" stroke="#333" stroke-width="1"/>
<circle cx="479.6" cy="538" r="1" fill="#174f8c"/>
<circle cx="481.4" cy="535.8" r="1" fill="#174f8c"/>
<circle cx="483.2" cy="539.6" r="1" fill="#174f8c"/>
<circle cx="485.2" cy="536.8" r="1" fill="#174f8c"/>
<circle cx="487.2" cy="538.8" r="1" fill="#174f8c"/>
<circle cx="483.8" cy="534.2" r="1" fill="#174f8c"/>
<circle cx="480.6" cy="540.2" r="1" fill="#174f8c"/>
<circle cx="486.6" cy="540.4" r="1" fill="#174f8c"/>
<circle cx="499" cy="531.6" r="1" fill="#cf0a2c"/>
<circle cx="500.8" cy="530" r="1" fill="#cf0a2c"/>
<circle cx="502.6" cy="533.4" r="1" fill="#cf0a2c"/>
<circle cx="504.6" cy="530.4" r="1" fill="#cf0a2c"/>
<circle cx="506.6" cy="531.8" r="1" fill="#cf0a2c"/>
<circle cx="502.7" cy="512.8" r="1" fill="#cf0a2c"/>
<circle cx="500.4" cy="535.2" r="1" fill="#cf0a2c"/>
<circle cx="505.6" cy="535" r="1" fill="#cf0a2c"/>
<text x="466.84" y="576.25" stroke="#231f20" stroke-width="0.32" font-size="7.42" transform="rotate(-45 466.84 576.25)">AML in</text>
<text x="455.48" y="599.75" stroke="#231f20" stroke-width="0.32" font-size="7.05" transform="rotate(-45 455.48 599.75)">Lama4<tspan font-size="5.2" dy="-2.8">+/+</tspan><tspan dy="2.8"> MSC</tspan></text>
<text x="487.22" y="576.45" stroke="#231f20" stroke-width="0.32" font-size="7.45" transform="rotate(-45 487.22 576.45)">AML in</text>
<text x="478.74" y="599.02" stroke="#231f20" stroke-width="0.32" font-size="6.82" transform="rotate(-45 478.74 599.02)">Lama4<tspan font-size="5.2" dy="-2.8">−/−</tspan><tspan dy="2.8"> MSC</tspan></text>
<text x="381.23" y="576.4" stroke="#231f20" stroke-width="0.32" font-size="7.48" transform="rotate(-45 381.23 576.4)">AML in</text>
<text x="370.22" y="599.85" stroke="#231f20" stroke-width="0.32" font-size="7.03" transform="rotate(-45 370.22 599.85)">Lama4<tspan font-size="5.2" dy="-2.8">+/+</tspan><tspan dy="2.8"> MSC</tspan></text>
<text x="401.56" y="576.3" stroke="#231f20" stroke-width="0.32" font-size="7.41" transform="rotate(-45 401.56 576.3)">AML in</text>
<text x="393.48" y="599.02" stroke="#231f20" stroke-width="0.32" font-size="6.89" transform="rotate(-45 393.48 599.02)">Lama4<tspan font-size="5.2" dy="-2.8">−/−</tspan><tspan dy="2.8"> MSC</tspan></text>
</svg>
</body></html>
